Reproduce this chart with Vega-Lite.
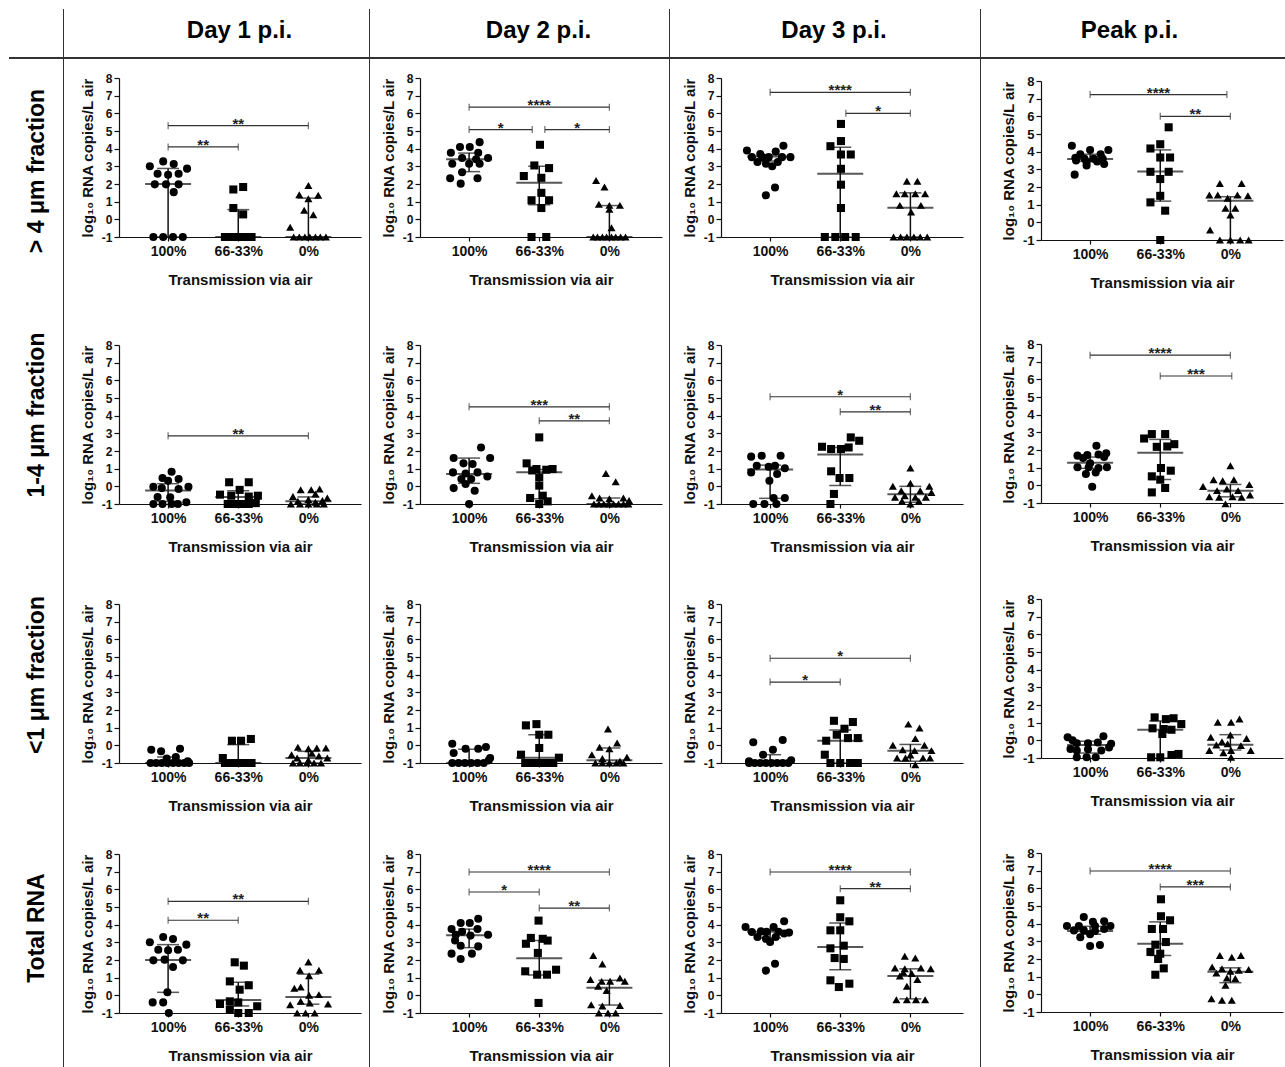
{
"$schema": "https://vega.github.io/schema/vega-lite/v6.json",
"padding": {"left": 0, "top": 9, "right": 0, "bottom": 0},
"background": "white",
"spacing": 0,
"config": {
 "font": "Liberation Sans",
 "view": {"stroke": null},
 "concat": {"spacing": 0},
 "axis": {"grid": false, "domainColor": "#111", "domainWidth": 1.2, "tickColor": "#111", "tickWidth": 1.2, "labelColor": "#111", "titleColor": "#111", "labelFont": "Liberation Sans", "titleFont": "Liberation Sans"},
 "axisX": {"tickSize": 4, "labelPadding": 3, "labelFontSize": 14, "labelFontWeight": "bold", "titleFontSize": 15, "titleFontWeight": "bold", "titlePadding": 14, "labelAngle": 0},
 "axisY": {"tickSize": 5, "labelPadding": 2, "labelFontSize": 12, "labelFontWeight": "bold", "titleFontSize": 15, "titleFontWeight": "bold", "titlePadding": 6, "labelOverlap": false}
},
"datasets": {
"sum": [
{"p":"11","x":1,"med":2.0,"q1":-1,"q3":2.88},{"p":"11","x":2,"med":-1,"q1":-1,"q3":0.55},{"p":"11","x":3,"med":-1,"q1":-1,"q3":1.2},
{"p":"12","x":1,"med":3.4,"q1":2.7,"q3":3.75},{"p":"12","x":2,"med":2.07,"q1":0.83,"q3":3.0},{"p":"12","x":3,"med":-1,"q1":-1,"q3":0.78},
{"p":"13","x":1,"med":3.56,"q1":3.3,"q3":3.65},{"p":"13","x":2,"med":2.58,"q1":-1,"q3":4.08},{"p":"13","x":3,"med":0.66,"q1":-1,"q3":1.5},
{"p":"14","x":1,"med":3.58,"q1":3.45,"q3":3.85},{"p":"14","x":2,"med":2.88,"q1":1.2,"q3":4.1},{"p":"14","x":3,"med":1.22,"q1":-1,"q3":1.45},
{"p":"21","x":1,"med":-0.24,"q1":-0.85,"q3":0.15},{"p":"21","x":2,"med":-0.6,"q1":-1,"q3":-0.25},{"p":"21","x":3,"med":-0.85,"q1":-1,"q3":-0.6},
{"p":"22","x":1,"med":0.7,"q1":0.17,"q3":1.6},{"p":"22","x":2,"med":0.8,"q1":-0.7,"q3":0.95},{"p":"22","x":3,"med":-1,"q1":-1,"q3":-0.66},
{"p":"23","x":1,"med":0.95,"q1":-0.68,"q3":1.2},{"p":"23","x":2,"med":1.8,"q1":0.05,"q3":2.2},{"p":"23","x":3,"med":-0.45,"q1":-0.9,"q3":0.0},
{"p":"24","x":1,"med":1.28,"q1":0.96,"q3":1.6},{"p":"24","x":2,"med":1.85,"q1":0.33,"q3":2.6},{"p":"24","x":3,"med":-0.3,"q1":-0.65,"q3":0.05},
{"p":"31","x":1,"med":-1,"q1":-1,"q3":-0.66},{"p":"31","x":2,"med":-1,"q1":-1,"q3":0.04},{"p":"31","x":3,"med":-0.72,"q1":-1,"q3":-0.34},
{"p":"32","x":1,"med":-1,"q1":-1,"q3":-0.22},{"p":"32","x":2,"med":-0.7,"q1":-1,"q3":0.6},{"p":"32","x":3,"med":-0.85,"q1":-1,"q3":-0.15},
{"p":"33","x":1,"med":-0.9,"q1":-1,"q3":-0.53},{"p":"33","x":2,"med":0.26,"q1":-1,"q3":0.87},{"p":"33","x":3,"med":-0.3,"q1":-0.9,"q3":0.05},
{"p":"34","x":1,"med":-0.26,"q1":-0.72,"q3":-0.05},{"p":"34","x":2,"med":0.6,"q1":-1,"q3":1.1},{"p":"34","x":3,"med":-0.25,"q1":-0.55,"q3":0.32},
{"p":"41","x":1,"med":2.0,"q1":0.17,"q3":2.87},{"p":"41","x":2,"med":-0.26,"q1":-0.6,"q3":0.74},{"p":"41","x":3,"med":-0.1,"q1":-0.5,"q3":1.2},
{"p":"42","x":1,"med":3.4,"q1":2.7,"q3":3.75},{"p":"42","x":2,"med":2.1,"q1":1.15,"q3":3.1},{"p":"42","x":3,"med":0.43,"q1":-0.55,"q3":0.85},
{"p":"43","x":1,"med":3.6,"q1":3.25,"q3":3.7},{"p":"43","x":2,"med":2.74,"q1":1.45,"q3":4.1},{"p":"43","x":3,"med":1.1,"q1":-0.2,"q3":1.5},
{"p":"44","x":1,"med":3.58,"q1":3.4,"q3":3.85},{"p":"44","x":2,"med":2.87,"q1":2.2,"q3":4.1},{"p":"44","x":3,"med":1.28,"q1":0.66,"q3":1.5}
],
"sig": [
{"p":"11","x1":1,"x2":2,"y":4.1,"lab":"**"},{"p":"11","x1":1,"x2":3,"y":5.3,"lab":"**"},
{"p":"12","x1":1,"x2":1.9,"y":5.08,"lab":"*"},{"p":"12","x1":2.08,"x2":3,"y":5.08,"lab":"*"},{"p":"12","x1":1,"x2":3,"y":6.35,"lab":"****"},
{"p":"13","x1":1,"x2":3,"y":7.19,"lab":"****"},{"p":"13","x1":2.08,"x2":3,"y":6.0,"lab":"*"},
{"p":"14","x1":1,"x2":2.95,"y":7.23,"lab":"****"},{"p":"14","x1":2,"x2":3,"y":6.0,"lab":"**"},
{"p":"21","x1":1,"x2":3,"y":2.86,"lab":"**"},
{"p":"22","x1":1,"x2":3,"y":4.5,"lab":"***"},{"p":"22","x1":2,"x2":3,"y":3.71,"lab":"**"},
{"p":"23","x1":1,"x2":3,"y":5.07,"lab":"*"},{"p":"23","x1":2,"x2":3,"y":4.22,"lab":"**"},
{"p":"24","x1":1,"x2":3,"y":7.37,"lab":"****"},{"p":"24","x1":2,"x2":3.02,"y":6.19,"lab":"***"},
{"p":"33","x1":1,"x2":2,"y":3.58,"lab":"*"},{"p":"33","x1":1,"x2":3,"y":4.93,"lab":"*"},
{"p":"41","x1":1,"x2":2,"y":4.25,"lab":"**"},{"p":"41","x1":1,"x2":3,"y":5.32,"lab":"**"},
{"p":"42","x1":1,"x2":3,"y":6.98,"lab":"****"},{"p":"42","x1":1,"x2":2,"y":5.85,"lab":"*"},{"p":"42","x1":2,"x2":3,"y":4.94,"lab":"**"},
{"p":"43","x1":1,"x2":3,"y":6.98,"lab":"****"},{"p":"43","x1":2,"x2":3,"y":6.04,"lab":"**"},
{"p":"44","x1":1,"x2":3,"y":6.98,"lab":"****"},{"p":"44","x1":2,"x2":3,"y":6.08,"lab":"***"}
],
"pts": [
{"p":"11","g":"100%","x":0.74,"y":3.0},{"p":"11","g":"100%","x":0.93,"y":3.28},{"p":"11","g":"100%","x":1.08,"y":3.13},{"p":"11","g":"100%","x":1.27,"y":2.87},{"p":"11","g":"100%","x":0.85,"y":2.58},{"p":"11","g":"100%","x":1.0,"y":2.52},{"p":"11","g":"100%","x":1.15,"y":2.58},{"p":"11","g":"100%","x":0.81,"y":1.98},{"p":"11","g":"100%","x":0.97,"y":1.98},{"p":"11","g":"100%","x":1.15,"y":1.98},{"p":"11","g":"100%","x":1.08,"y":1.54},{"p":"11","g":"100%","x":0.79,"y":-1},{"p":"11","g":"100%","x":0.93,"y":-1},{"p":"11","g":"100%","x":1.07,"y":-1},{"p":"11","g":"100%","x":1.21,"y":-1},
{"p":"11","g":"66-33%","x":1.93,"y":1.69},{"p":"11","g":"66-33%","x":2.07,"y":1.83},{"p":"11","g":"66-33%","x":1.93,"y":0.64},{"p":"11","g":"66-33%","x":2.07,"y":0.28},{"p":"11","g":"66-33%","x":1.81,"y":-1},{"p":"11","g":"66-33%","x":1.86,"y":-1},{"p":"11","g":"66-33%","x":1.92,"y":-1},{"p":"11","g":"66-33%","x":1.97,"y":-1},{"p":"11","g":"66-33%","x":2.03,"y":-1},{"p":"11","g":"66-33%","x":2.08,"y":-1},{"p":"11","g":"66-33%","x":2.14,"y":-1},{"p":"11","g":"66-33%","x":2.19,"y":-1},
{"p":"11","g":"0%","x":3.0,"y":1.92},{"p":"11","g":"0%","x":2.87,"y":1.39},{"p":"11","g":"0%","x":3.14,"y":1.36},{"p":"11","g":"0%","x":3.0,"y":1.17},{"p":"11","g":"0%","x":2.94,"y":0.51},{"p":"11","g":"0%","x":3.07,"y":0.26},{"p":"11","g":"0%","x":2.74,"y":-0.45},{"p":"11","g":"0%","x":2.79,"y":-1},{"p":"11","g":"0%","x":2.87,"y":-1},{"p":"11","g":"0%","x":2.95,"y":-1},{"p":"11","g":"0%","x":3.02,"y":-1},{"p":"11","g":"0%","x":3.1,"y":-1},{"p":"11","g":"0%","x":3.17,"y":-1},{"p":"11","g":"0%","x":3.25,"y":-1},
{"p":"12","g":"100%","x":1.15,"y":4.37},{"p":"12","g":"100%","x":0.87,"y":4.09},{"p":"12","g":"100%","x":1.01,"y":4.09},{"p":"12","g":"100%","x":0.74,"y":3.77},{"p":"12","g":"100%","x":1.13,"y":3.77},{"p":"12","g":"100%","x":0.9,"y":3.47},{"p":"12","g":"100%","x":1.27,"y":3.47},{"p":"12","g":"100%","x":1.1,"y":3.4},{"p":"12","g":"100%","x":0.76,"y":3.15},{"p":"12","g":"100%","x":1.0,"y":3.15},{"p":"12","g":"100%","x":1.15,"y":3.15},{"p":"12","g":"100%","x":0.9,"y":2.67},{"p":"12","g":"100%","x":0.73,"y":2.33},{"p":"12","g":"100%","x":1.12,"y":2.33},{"p":"12","g":"100%","x":0.88,"y":2.02},
{"p":"12","g":"66-33%","x":2.01,"y":4.22},{"p":"12","g":"66-33%","x":1.93,"y":3.05},{"p":"12","g":"66-33%","x":2.14,"y":2.9},{"p":"12","g":"66-33%","x":1.78,"y":2.45},{"p":"12","g":"66-33%","x":2.03,"y":2.35},{"p":"12","g":"66-33%","x":2.03,"y":1.5},{"p":"12","g":"66-33%","x":1.89,"y":1.08},{"p":"12","g":"66-33%","x":2.14,"y":1.08},{"p":"12","g":"66-33%","x":2.03,"y":0.64},{"p":"12","g":"66-33%","x":1.89,"y":-1},{"p":"12","g":"66-33%","x":2.1,"y":-1},
{"p":"12","g":"0%","x":2.81,"y":2.2},{"p":"12","g":"0%","x":2.93,"y":1.83},{"p":"12","g":"0%","x":2.85,"y":0.85},{"p":"12","g":"0%","x":3.0,"y":0.79},{"p":"12","g":"0%","x":3.15,"y":0.79},{"p":"12","g":"0%","x":3.0,"y":0.57},{"p":"12","g":"0%","x":3.03,"y":-0.47},{"p":"12","g":"0%","x":2.77,"y":-1},{"p":"12","g":"0%","x":2.83,"y":-1},{"p":"12","g":"0%","x":2.9,"y":-1},{"p":"12","g":"0%","x":2.96,"y":-1},{"p":"12","g":"0%","x":3.03,"y":-1},{"p":"12","g":"0%","x":3.09,"y":-1},{"p":"12","g":"0%","x":3.16,"y":-1},{"p":"12","g":"0%","x":3.23,"y":-1},
{"p":"13","g":"100%","x":0.67,"y":3.9},{"p":"13","g":"100%","x":0.86,"y":3.7},{"p":"13","g":"100%","x":1.08,"y":3.84},{"p":"13","g":"100%","x":1.19,"y":4.16},{"p":"13","g":"100%","x":0.74,"y":3.52},{"p":"13","g":"100%","x":0.89,"y":3.52},{"p":"13","g":"100%","x":0.98,"y":3.52},{"p":"13","g":"100%","x":1.17,"y":3.52},{"p":"13","g":"100%","x":1.29,"y":3.52},{"p":"13","g":"100%","x":0.82,"y":3.24},{"p":"13","g":"100%","x":0.94,"y":3.15},{"p":"13","g":"100%","x":1.03,"y":3.01},{"p":"13","g":"100%","x":1.11,"y":3.24},{"p":"13","g":"100%","x":1.07,"y":1.8},{"p":"13","g":"100%","x":0.94,"y":1.36},
{"p":"13","g":"66-33%","x":2.01,"y":5.4},{"p":"13","g":"66-33%","x":2.01,"y":4.43},{"p":"13","g":"66-33%","x":1.86,"y":4.14},{"p":"13","g":"66-33%","x":2.15,"y":3.67},{"p":"13","g":"66-33%","x":2.01,"y":3.67},{"p":"13","g":"66-33%","x":2.01,"y":2.86},{"p":"13","g":"66-33%","x":2.01,"y":1.96},{"p":"13","g":"66-33%","x":2.01,"y":0.64},{"p":"13","g":"66-33%","x":1.78,"y":-1},{"p":"13","g":"66-33%","x":1.93,"y":-1},{"p":"13","g":"66-33%","x":2.07,"y":-1},{"p":"13","g":"66-33%","x":2.22,"y":-1},
{"p":"13","g":"0%","x":2.95,"y":2.15},{"p":"13","g":"0%","x":3.1,"y":2.15},{"p":"13","g":"0%","x":2.8,"y":1.45},{"p":"13","g":"0%","x":2.92,"y":1.45},{"p":"13","g":"0%","x":3.07,"y":1.45},{"p":"13","g":"0%","x":3.21,"y":1.45},{"p":"13","g":"0%","x":2.85,"y":0.79},{"p":"13","g":"0%","x":3.01,"y":0.41},{"p":"13","g":"0%","x":3.15,"y":0.79},{"p":"13","g":"0%","x":2.76,"y":-1},{"p":"13","g":"0%","x":2.86,"y":-1},{"p":"13","g":"0%","x":2.95,"y":-1},{"p":"13","g":"0%","x":3.05,"y":-1},{"p":"13","g":"0%","x":3.14,"y":-1},{"p":"13","g":"0%","x":3.24,"y":-1},
{"p":"14","g":"100%","x":0.74,"y":4.33},{"p":"14","g":"100%","x":1.0,"y":4.09},{"p":"14","g":"100%","x":1.26,"y":4.09},{"p":"14","g":"100%","x":0.86,"y":3.85},{"p":"14","g":"100%","x":1.15,"y":3.85},{"p":"14","g":"100%","x":0.79,"y":3.65},{"p":"14","g":"100%","x":0.92,"y":3.6},{"p":"14","g":"100%","x":1.05,"y":3.6},{"p":"14","g":"100%","x":1.18,"y":3.6},{"p":"14","g":"100%","x":0.8,"y":3.5},{"p":"14","g":"100%","x":1.1,"y":3.45},{"p":"14","g":"100%","x":0.95,"y":3.4},{"p":"14","g":"100%","x":1.2,"y":3.3},{"p":"14","g":"100%","x":0.95,"y":3.22},{"p":"14","g":"100%","x":0.78,"y":2.7},
{"p":"14","g":"66-33%","x":2.12,"y":5.38},{"p":"14","g":"66-33%","x":2.0,"y":4.42},{"p":"14","g":"66-33%","x":1.86,"y":4.18},{"p":"14","g":"66-33%","x":2.14,"y":3.67},{"p":"14","g":"66-33%","x":2.0,"y":3.67},{"p":"14","g":"66-33%","x":1.86,"y":2.86},{"p":"14","g":"66-33%","x":2.12,"y":2.86},{"p":"14","g":"66-33%","x":2.0,"y":2.45},{"p":"14","g":"66-33%","x":2.0,"y":1.5},{"p":"14","g":"66-33%","x":1.86,"y":1.13},{"p":"14","g":"66-33%","x":2.07,"y":0.66},{"p":"14","g":"66-33%","x":2.0,"y":-1},
{"p":"14","g":"0%","x":2.85,"y":2.2},{"p":"14","g":"0%","x":3.16,"y":2.2},{"p":"14","g":"0%","x":2.7,"y":1.55},{"p":"14","g":"0%","x":2.82,"y":1.55},{"p":"14","g":"0%","x":2.96,"y":1.36},{"p":"14","g":"0%","x":3.1,"y":1.55},{"p":"14","g":"0%","x":3.25,"y":1.5},{"p":"14","g":"0%","x":2.93,"y":0.8},{"p":"14","g":"0%","x":3.07,"y":0.8},{"p":"14","g":"0%","x":3.0,"y":0.41},{"p":"14","g":"0%","x":2.71,"y":-0.43},{"p":"14","g":"0%","x":2.85,"y":-1},{"p":"14","g":"0%","x":3.0,"y":-1},{"p":"14","g":"0%","x":3.14,"y":-1},{"p":"14","g":"0%","x":3.26,"y":-1},
{"p":"21","g":"100%","x":1.05,"y":0.83},{"p":"21","g":"100%","x":0.92,"y":0.47},{"p":"21","g":"100%","x":1.15,"y":0.41},{"p":"21","g":"100%","x":1.0,"y":0.32},{"p":"21","g":"100%","x":0.79,"y":-0.02},{"p":"21","g":"100%","x":1.29,"y":-0.02},{"p":"21","g":"100%","x":0.91,"y":-0.1},{"p":"21","g":"100%","x":1.15,"y":-0.15},{"p":"21","g":"100%","x":1.03,"y":-0.62},{"p":"21","g":"100%","x":0.85,"y":-0.6},{"p":"21","g":"100%","x":1.26,"y":-0.9},{"p":"21","g":"100%","x":0.79,"y":-1},{"p":"21","g":"100%","x":0.92,"y":-1},{"p":"21","g":"100%","x":1.05,"y":-1},{"p":"21","g":"100%","x":1.14,"y":-1},
{"p":"21","g":"66-33%","x":1.87,"y":0.23},{"p":"21","g":"66-33%","x":2.15,"y":0.23},{"p":"21","g":"66-33%","x":2.02,"y":-0.2},{"p":"21","g":"66-33%","x":1.74,"y":-0.47},{"p":"21","g":"66-33%","x":1.9,"y":-0.53},{"p":"21","g":"66-33%","x":2.15,"y":-0.58},{"p":"21","g":"66-33%","x":2.28,"y":-0.53},{"p":"21","g":"66-33%","x":1.85,"y":-1},{"p":"21","g":"66-33%","x":1.95,"y":-1},{"p":"21","g":"66-33%","x":2.05,"y":-1},{"p":"21","g":"66-33%","x":2.15,"y":-1},{"p":"21","g":"66-33%","x":2.25,"y":-0.95},
{"p":"21","g":"0%","x":2.89,"y":-0.19},{"p":"21","g":"0%","x":3.04,"y":-0.19},{"p":"21","g":"0%","x":3.16,"y":-0.15},{"p":"21","g":"0%","x":3.1,"y":-0.43},{"p":"21","g":"0%","x":2.78,"y":-0.57},{"p":"21","g":"0%","x":3.27,"y":-0.66},{"p":"21","g":"0%","x":3.0,"y":-0.75},{"p":"21","g":"0%","x":2.85,"y":-0.85},{"p":"21","g":"0%","x":3.1,"y":-0.9},{"p":"21","g":"0%","x":2.75,"y":-1},{"p":"21","g":"0%","x":2.88,"y":-1},{"p":"21","g":"0%","x":3.0,"y":-1},{"p":"21","g":"0%","x":3.12,"y":-1},{"p":"21","g":"0%","x":3.22,"y":-1},{"p":"21","g":"0%","x":3.2,"y":-0.8},
{"p":"22","g":"100%","x":1.17,"y":2.2},{"p":"22","g":"100%","x":0.78,"y":1.6},{"p":"22","g":"100%","x":1.3,"y":1.6},{"p":"22","g":"100%","x":0.92,"y":1.3},{"p":"22","g":"100%","x":1.05,"y":1.26},{"p":"22","g":"100%","x":0.77,"y":0.79},{"p":"22","g":"100%","x":0.95,"y":0.73},{"p":"22","g":"100%","x":1.12,"y":0.79},{"p":"22","g":"100%","x":1.26,"y":0.56},{"p":"22","g":"100%","x":0.89,"y":0.41},{"p":"22","g":"100%","x":1.03,"y":0.41},{"p":"22","g":"100%","x":0.95,"y":0.13},{"p":"22","g":"100%","x":0.78,"y":-0.1},{"p":"22","g":"100%","x":1.08,"y":-0.25},{"p":"22","g":"100%","x":1.0,"y":-1},
{"p":"22","g":"66-33%","x":2.0,"y":2.77},{"p":"22","g":"66-33%","x":1.82,"y":1.3},{"p":"22","g":"66-33%","x":1.96,"y":0.98},{"p":"22","g":"66-33%","x":2.1,"y":0.94},{"p":"22","g":"66-33%","x":2.19,"y":0.98},{"p":"22","g":"66-33%","x":1.9,"y":0.9},{"p":"22","g":"66-33%","x":2.0,"y":0.51},{"p":"22","g":"66-33%","x":2.0,"y":0.04},{"p":"22","g":"66-33%","x":1.87,"y":-0.66},{"p":"22","g":"66-33%","x":2.05,"y":-0.53},{"p":"22","g":"66-33%","x":2.12,"y":-0.85},{"p":"22","g":"66-33%","x":2.0,"y":-1},
{"p":"22","g":"0%","x":2.95,"y":0.73},{"p":"22","g":"0%","x":3.09,"y":0.26},{"p":"22","g":"0%","x":2.75,"y":-0.53},{"p":"22","g":"0%","x":2.86,"y":-0.66},{"p":"22","g":"0%","x":3.0,"y":-0.7},{"p":"22","g":"0%","x":3.2,"y":-0.66},{"p":"22","g":"0%","x":3.28,"y":-0.8},{"p":"22","g":"0%","x":2.78,"y":-1},{"p":"22","g":"0%","x":2.85,"y":-1},{"p":"22","g":"0%","x":2.92,"y":-1},{"p":"22","g":"0%","x":2.99,"y":-1},{"p":"22","g":"0%","x":3.06,"y":-1},{"p":"22","g":"0%","x":3.13,"y":-1},{"p":"22","g":"0%","x":3.2,"y":-1},{"p":"22","g":"0%","x":3.27,"y":-1},
{"p":"23","g":"100%","x":0.73,"y":1.68},{"p":"23","g":"100%","x":0.88,"y":1.73},{"p":"23","g":"100%","x":1.15,"y":1.73},{"p":"23","g":"100%","x":0.81,"y":1.17},{"p":"23","g":"100%","x":0.98,"y":1.11},{"p":"23","g":"100%","x":1.07,"y":1.17},{"p":"23","g":"100%","x":1.21,"y":1.02},{"p":"23","g":"100%","x":0.73,"y":0.79},{"p":"23","g":"100%","x":0.99,"y":0.32},{"p":"23","g":"100%","x":1.1,"y":0.7},{"p":"23","g":"100%","x":1.05,"y":-0.66},{"p":"23","g":"100%","x":1.21,"y":-0.66},{"p":"23","g":"100%","x":0.76,"y":-1},{"p":"23","g":"100%","x":0.92,"y":-1},{"p":"23","g":"100%","x":1.09,"y":-1},
{"p":"23","g":"66-33%","x":2.15,"y":2.77},{"p":"23","g":"66-33%","x":2.27,"y":2.58},{"p":"23","g":"66-33%","x":1.74,"y":2.24},{"p":"23","g":"66-33%","x":1.87,"y":2.11},{"p":"23","g":"66-33%","x":2.01,"y":2.11},{"p":"23","g":"66-33%","x":2.12,"y":2.2},{"p":"23","g":"66-33%","x":1.87,"y":0.85},{"p":"23","g":"66-33%","x":2.13,"y":0.47},{"p":"23","g":"66-33%","x":1.99,"y":0.47},{"p":"23","g":"66-33%","x":1.91,"y":-0.43},{"p":"23","g":"66-33%","x":1.86,"y":-1},
{"p":"23","g":"0%","x":3.0,"y":1.04},{"p":"23","g":"0%","x":2.75,"y":0.0},{"p":"23","g":"0%","x":3.0,"y":0.17},{"p":"23","g":"0%","x":3.27,"y":0.0},{"p":"23","g":"0%","x":2.87,"y":-0.25},{"p":"23","g":"0%","x":3.14,"y":-0.25},{"p":"23","g":"0%","x":2.78,"y":-0.62},{"p":"23","g":"0%","x":2.92,"y":-0.53},{"p":"23","g":"0%","x":3.07,"y":-0.62},{"p":"23","g":"0%","x":3.22,"y":-0.62},{"p":"23","g":"0%","x":3.0,"y":-1},{"p":"23","g":"0%","x":2.88,"y":-0.85},{"p":"23","g":"0%","x":3.12,"y":-0.85},{"p":"23","g":"0%","x":3.3,"y":-0.35},
{"p":"24","g":"100%","x":1.09,"y":2.24},{"p":"24","g":"100%","x":0.82,"y":1.68},{"p":"24","g":"100%","x":0.96,"y":1.71},{"p":"24","g":"100%","x":1.12,"y":1.75},{"p":"24","g":"100%","x":1.23,"y":1.81},{"p":"24","g":"100%","x":0.9,"y":1.55},{"p":"24","g":"100%","x":1.2,"y":1.6},{"p":"24","g":"100%","x":0.82,"y":1.02},{"p":"24","g":"100%","x":0.98,"y":1.02},{"p":"24","g":"100%","x":1.12,"y":0.98},{"p":"24","g":"100%","x":1.24,"y":1.02},{"p":"24","g":"100%","x":1.0,"y":1.25},{"p":"24","g":"100%","x":0.94,"y":0.64},{"p":"24","g":"100%","x":1.08,"y":0.73},{"p":"24","g":"100%","x":1.03,"y":-0.08},
{"p":"24","g":"66-33%","x":1.88,"y":2.9},{"p":"24","g":"66-33%","x":2.07,"y":2.9},{"p":"24","g":"66-33%","x":1.77,"y":2.65},{"p":"24","g":"66-33%","x":2.2,"y":2.33},{"p":"24","g":"66-33%","x":1.95,"y":2.18},{"p":"24","g":"66-33%","x":2.1,"y":2.2},{"p":"24","g":"66-33%","x":2.01,"y":0.98},{"p":"24","g":"66-33%","x":2.15,"y":0.83},{"p":"24","g":"66-33%","x":1.88,"y":0.51},{"p":"24","g":"66-33%","x":2.0,"y":0.32},{"p":"24","g":"66-33%","x":2.07,"y":-0.15},{"p":"24","g":"66-33%","x":1.88,"y":-0.4},
{"p":"24","g":"0%","x":3.0,"y":1.11},{"p":"24","g":"0%","x":2.76,"y":0.32},{"p":"24","g":"0%","x":2.89,"y":0.26},{"p":"24","g":"0%","x":3.05,"y":0.32},{"p":"24","g":"0%","x":3.27,"y":0.04},{"p":"24","g":"0%","x":2.61,"y":-0.06},{"p":"24","g":"0%","x":2.81,"y":-0.3},{"p":"24","g":"0%","x":2.95,"y":-0.21},{"p":"24","g":"0%","x":3.11,"y":-0.3},{"p":"24","g":"0%","x":2.7,"y":-0.64},{"p":"24","g":"0%","x":2.84,"y":-0.68},{"p":"24","g":"0%","x":3.03,"y":-0.64},{"p":"24","g":"0%","x":3.16,"y":-0.68},{"p":"24","g":"0%","x":2.93,"y":-1.05},{"p":"24","g":"0%","x":3.28,"y":-0.55},
{"p":"31","g":"100%","x":0.76,"y":-0.25},{"p":"31","g":"100%","x":0.9,"y":-0.34},{"p":"31","g":"100%","x":1.17,"y":-0.19},{"p":"31","g":"100%","x":1.11,"y":-0.66},{"p":"31","g":"100%","x":0.98,"y":-0.75},{"p":"31","g":"100%","x":0.75,"y":-1},{"p":"31","g":"100%","x":0.83,"y":-1},{"p":"31","g":"100%","x":0.91,"y":-1},{"p":"31","g":"100%","x":0.99,"y":-1},{"p":"31","g":"100%","x":1.07,"y":-1},{"p":"31","g":"100%","x":1.15,"y":-1},{"p":"31","g":"100%","x":1.23,"y":-1},{"p":"31","g":"100%","x":1.3,"y":-1},{"p":"31","g":"100%","x":1.28,"y":-0.9},
{"p":"31","g":"66-33%","x":1.91,"y":0.26},{"p":"31","g":"66-33%","x":2.04,"y":0.26},{"p":"31","g":"66-33%","x":2.18,"y":0.36},{"p":"31","g":"66-33%","x":1.78,"y":-0.72},{"p":"31","g":"66-33%","x":1.81,"y":-1},{"p":"31","g":"66-33%","x":1.86,"y":-1},{"p":"31","g":"66-33%","x":1.92,"y":-1},{"p":"31","g":"66-33%","x":1.97,"y":-1},{"p":"31","g":"66-33%","x":2.03,"y":-1},{"p":"31","g":"66-33%","x":2.08,"y":-1},{"p":"31","g":"66-33%","x":2.14,"y":-1},{"p":"31","g":"66-33%","x":2.19,"y":-1},
{"p":"31","g":"0%","x":2.85,"y":-0.11},{"p":"31","g":"0%","x":3.0,"y":-0.19},{"p":"31","g":"0%","x":3.12,"y":-0.15},{"p":"31","g":"0%","x":3.25,"y":-0.15},{"p":"31","g":"0%","x":2.76,"y":-0.53},{"p":"31","g":"0%","x":3.05,"y":-0.45},{"p":"31","g":"0%","x":3.15,"y":-0.6},{"p":"31","g":"0%","x":2.84,"y":-0.72},{"p":"31","g":"0%","x":3.27,"y":-0.72},{"p":"31","g":"0%","x":2.78,"y":-1},{"p":"31","g":"0%","x":2.88,"y":-1},{"p":"31","g":"0%","x":2.98,"y":-1},{"p":"31","g":"0%","x":3.08,"y":-1},{"p":"31","g":"0%","x":3.18,"y":-1},{"p":"31","g":"0%","x":3.0,"y":-0.85},
{"p":"32","g":"100%","x":0.76,"y":0.09},{"p":"32","g":"100%","x":0.95,"y":-0.19},{"p":"32","g":"100%","x":1.13,"y":-0.19},{"p":"32","g":"100%","x":1.24,"y":-0.09},{"p":"32","g":"100%","x":0.78,"y":-0.43},{"p":"32","g":"100%","x":1.3,"y":-0.72},{"p":"32","g":"100%","x":0.76,"y":-1},{"p":"32","g":"100%","x":0.85,"y":-1},{"p":"32","g":"100%","x":0.94,"y":-1},{"p":"32","g":"100%","x":1.03,"y":-1},{"p":"32","g":"100%","x":1.12,"y":-1},{"p":"32","g":"100%","x":1.21,"y":-1},{"p":"32","g":"100%","x":1.28,"y":-0.85},
{"p":"32","g":"66-33%","x":1.81,"y":1.13},{"p":"32","g":"66-33%","x":1.96,"y":1.2},{"p":"32","g":"66-33%","x":2.0,"y":0.6},{"p":"32","g":"66-33%","x":2.13,"y":0.6},{"p":"32","g":"66-33%","x":2.0,"y":-0.15},{"p":"32","g":"66-33%","x":1.74,"y":-0.53},{"p":"32","g":"66-33%","x":1.8,"y":-1},{"p":"32","g":"66-33%","x":1.9,"y":-1},{"p":"32","g":"66-33%","x":2.0,"y":-1},{"p":"32","g":"66-33%","x":2.1,"y":-1},{"p":"32","g":"66-33%","x":2.2,"y":-1},{"p":"32","g":"66-33%","x":2.28,"y":-0.7},
{"p":"32","g":"0%","x":2.98,"y":0.92},{"p":"32","g":"0%","x":3.11,"y":0.13},{"p":"32","g":"0%","x":2.86,"y":-0.11},{"p":"32","g":"0%","x":3.0,"y":-0.2},{"p":"32","g":"0%","x":2.75,"y":-0.53},{"p":"32","g":"0%","x":3.25,"y":-0.68},{"p":"32","g":"0%","x":2.9,"y":-0.75},{"p":"32","g":"0%","x":2.8,"y":-1},{"p":"32","g":"0%","x":2.9,"y":-1},{"p":"32","g":"0%","x":3.0,"y":-1},{"p":"32","g":"0%","x":3.1,"y":-1},{"p":"32","g":"0%","x":3.2,"y":-1},{"p":"32","g":"0%","x":3.15,"y":-0.9},
{"p":"33","g":"100%","x":0.76,"y":0.17},{"p":"33","g":"100%","x":1.18,"y":0.3},{"p":"33","g":"100%","x":1.04,"y":-0.25},{"p":"33","g":"100%","x":0.9,"y":-0.53},{"p":"33","g":"100%","x":1.3,"y":-0.85},{"p":"33","g":"100%","x":0.7,"y":-1},{"p":"33","g":"100%","x":0.78,"y":-1},{"p":"33","g":"100%","x":0.86,"y":-1},{"p":"33","g":"100%","x":0.94,"y":-1},{"p":"33","g":"100%","x":1.02,"y":-1},{"p":"33","g":"100%","x":1.1,"y":-1},{"p":"33","g":"100%","x":1.18,"y":-1},{"p":"33","g":"100%","x":1.26,"y":-1},{"p":"33","g":"100%","x":0.7,"y":-0.9},
{"p":"33","g":"66-33%","x":1.91,"y":1.39},{"p":"33","g":"66-33%","x":2.18,"y":1.32},{"p":"33","g":"66-33%","x":2.06,"y":0.94},{"p":"33","g":"66-33%","x":2.11,"y":0.41},{"p":"33","g":"66-33%","x":2.25,"y":0.41},{"p":"33","g":"66-33%","x":1.95,"y":0.6},{"p":"33","g":"66-33%","x":1.78,"y":-0.53},{"p":"33","g":"66-33%","x":1.8,"y":0.26},{"p":"33","g":"66-33%","x":1.86,"y":-1},{"p":"33","g":"66-33%","x":2.0,"y":-1},{"p":"33","g":"66-33%","x":2.14,"y":-1},{"p":"33","g":"66-33%","x":2.25,"y":-1},
{"p":"33","g":"0%","x":2.97,"y":1.2},{"p":"33","g":"0%","x":3.13,"y":0.98},{"p":"33","g":"0%","x":3.07,"y":0.38},{"p":"33","g":"0%","x":2.75,"y":0.0},{"p":"33","g":"0%","x":3.2,"y":0.0},{"p":"33","g":"0%","x":2.89,"y":-0.25},{"p":"33","g":"0%","x":3.06,"y":-0.3},{"p":"33","g":"0%","x":3.3,"y":-0.3},{"p":"33","g":"0%","x":2.81,"y":-0.72},{"p":"33","g":"0%","x":2.93,"y":-0.72},{"p":"33","g":"0%","x":3.18,"y":-0.72},{"p":"33","g":"0%","x":3.28,"y":-0.72},{"p":"33","g":"0%","x":3.07,"y":-1.1},{"p":"33","g":"0%","x":3.0,"y":-0.55},
{"p":"34","g":"100%","x":0.68,"y":0.17},{"p":"34","g":"100%","x":1.19,"y":0.23},{"p":"34","g":"100%","x":0.75,"y":0.0},{"p":"34","g":"100%","x":0.81,"y":-0.17},{"p":"34","g":"100%","x":0.97,"y":-0.17},{"p":"34","g":"100%","x":1.11,"y":-0.12},{"p":"34","g":"100%","x":0.72,"y":-0.49},{"p":"34","g":"100%","x":1.27,"y":-0.4},{"p":"34","g":"100%","x":0.81,"y":-0.58},{"p":"34","g":"100%","x":0.97,"y":-0.5},{"p":"34","g":"100%","x":1.16,"y":-0.58},{"p":"34","g":"100%","x":0.81,"y":-0.96},{"p":"34","g":"100%","x":0.95,"y":-0.96},{"p":"34","g":"100%","x":1.08,"y":-0.96},{"p":"34","g":"100%","x":1.3,"y":-0.2},
{"p":"34","g":"66-33%","x":1.92,"y":1.3},{"p":"34","g":"66-33%","x":2.08,"y":1.2},{"p":"34","g":"66-33%","x":2.19,"y":1.25},{"p":"34","g":"66-33%","x":2.3,"y":0.92},{"p":"34","g":"66-33%","x":1.89,"y":0.68},{"p":"34","g":"66-33%","x":2.05,"y":0.64},{"p":"34","g":"66-33%","x":2.16,"y":0.6},{"p":"34","g":"66-33%","x":2.03,"y":0.36},{"p":"34","g":"66-33%","x":1.87,"y":-0.96},{"p":"34","g":"66-33%","x":2.0,"y":-0.96},{"p":"34","g":"66-33%","x":2.16,"y":-0.83},{"p":"34","g":"66-33%","x":2.26,"y":-0.77},
{"p":"34","g":"0%","x":2.82,"y":1.02},{"p":"34","g":"0%","x":3.01,"y":1.02},{"p":"34","g":"0%","x":3.13,"y":1.21},{"p":"34","g":"0%","x":3.0,"y":0.3},{"p":"34","g":"0%","x":2.72,"y":0.17},{"p":"34","g":"0%","x":2.88,"y":-0.08},{"p":"34","g":"0%","x":3.23,"y":0.11},{"p":"34","g":"0%","x":2.8,"y":-0.26},{"p":"34","g":"0%","x":3.15,"y":-0.3},{"p":"34","g":"0%","x":2.96,"y":-0.2},{"p":"34","g":"0%","x":2.7,"y":-0.58},{"p":"34","g":"0%","x":3.01,"y":-0.58},{"p":"34","g":"0%","x":3.29,"y":-0.58},{"p":"34","g":"0%","x":2.9,"y":-0.7},{"p":"34","g":"0%","x":3.01,"y":-0.96},
{"p":"41","g":"100%","x":0.74,"y":3.0},{"p":"41","g":"100%","x":0.93,"y":3.3},{"p":"41","g":"100%","x":1.07,"y":3.19},{"p":"41","g":"100%","x":1.26,"y":2.87},{"p":"41","g":"100%","x":0.86,"y":2.58},{"p":"41","g":"100%","x":1.0,"y":2.55},{"p":"41","g":"100%","x":1.14,"y":2.58},{"p":"41","g":"100%","x":0.79,"y":1.98},{"p":"41","g":"100%","x":0.95,"y":2.02},{"p":"41","g":"100%","x":1.21,"y":1.98},{"p":"41","g":"100%","x":1.07,"y":1.6},{"p":"41","g":"100%","x":0.99,"y":0.17},{"p":"41","g":"100%","x":0.78,"y":-0.4},{"p":"41","g":"100%","x":0.93,"y":-0.4},{"p":"41","g":"100%","x":1.01,"y":-1},
{"p":"41","g":"66-33%","x":1.95,"y":1.87},{"p":"41","g":"66-33%","x":2.08,"y":1.68},{"p":"41","g":"66-33%","x":1.88,"y":0.79},{"p":"41","g":"66-33%","x":2.15,"y":0.57},{"p":"41","g":"66-33%","x":2.02,"y":0.32},{"p":"41","g":"66-33%","x":1.74,"y":-0.49},{"p":"41","g":"66-33%","x":1.88,"y":-0.34},{"p":"41","g":"66-33%","x":2.0,"y":-0.4},{"p":"41","g":"66-33%","x":2.27,"y":-0.62},{"p":"41","g":"66-33%","x":1.88,"y":-0.81},{"p":"41","g":"66-33%","x":2.0,"y":-1},{"p":"41","g":"66-33%","x":2.15,"y":-1},
{"p":"41","g":"0%","x":3.0,"y":1.89},{"p":"41","g":"0%","x":2.88,"y":1.42},{"p":"41","g":"0%","x":3.15,"y":1.42},{"p":"41","g":"0%","x":3.01,"y":1.11},{"p":"41","g":"0%","x":2.89,"y":0.47},{"p":"41","g":"0%","x":2.8,"y":0.4},{"p":"41","g":"0%","x":3.01,"y":0.0},{"p":"41","g":"0%","x":3.15,"y":0.04},{"p":"41","g":"0%","x":2.74,"y":-0.53},{"p":"41","g":"0%","x":2.89,"y":-0.34},{"p":"41","g":"0%","x":3.02,"y":-0.43},{"p":"41","g":"0%","x":3.28,"y":-0.49},{"p":"41","g":"0%","x":2.84,"y":-1},{"p":"41","g":"0%","x":2.96,"y":-1},{"p":"41","g":"0%","x":3.09,"y":-1},
{"p":"42","g":"100%","x":1.13,"y":4.34},{"p":"42","g":"100%","x":0.88,"y":4.09},{"p":"42","g":"100%","x":1.01,"y":4.09},{"p":"42","g":"100%","x":0.75,"y":3.75},{"p":"42","g":"100%","x":1.12,"y":3.75},{"p":"42","g":"100%","x":0.9,"y":3.6},{"p":"42","g":"100%","x":0.81,"y":3.43},{"p":"42","g":"100%","x":1.02,"y":3.38},{"p":"42","g":"100%","x":1.27,"y":3.43},{"p":"42","g":"100%","x":0.8,"y":3.1},{"p":"42","g":"100%","x":0.88,"y":2.81},{"p":"42","g":"100%","x":1.13,"y":2.77},{"p":"42","g":"100%","x":0.75,"y":2.36},{"p":"42","g":"100%","x":1.04,"y":2.36},{"p":"42","g":"100%","x":0.88,"y":2.06},
{"p":"42","g":"66-33%","x":1.99,"y":4.23},{"p":"42","g":"66-33%","x":1.88,"y":3.25},{"p":"42","g":"66-33%","x":2.05,"y":3.2},{"p":"42","g":"66-33%","x":1.81,"y":2.92},{"p":"42","g":"66-33%","x":2.12,"y":3.1},{"p":"42","g":"66-33%","x":1.98,"y":2.4},{"p":"42","g":"66-33%","x":1.8,"y":1.36},{"p":"42","g":"66-33%","x":1.97,"y":1.17},{"p":"42","g":"66-33%","x":2.24,"y":1.45},{"p":"42","g":"66-33%","x":2.11,"y":1.17},{"p":"42","g":"66-33%","x":1.99,"y":-0.43},
{"p":"42","g":"0%","x":2.77,"y":2.25},{"p":"42","g":"0%","x":2.9,"y":1.77},{"p":"42","g":"0%","x":2.73,"y":0.89},{"p":"42","g":"0%","x":2.89,"y":0.79},{"p":"42","g":"0%","x":3.01,"y":0.8},{"p":"42","g":"0%","x":3.15,"y":0.98},{"p":"42","g":"0%","x":2.84,"y":0.51},{"p":"42","g":"0%","x":2.96,"y":0.28},{"p":"42","g":"0%","x":2.74,"y":-0.53},{"p":"42","g":"0%","x":2.9,"y":-0.6},{"p":"42","g":"0%","x":3.15,"y":-0.58},{"p":"42","g":"0%","x":2.85,"y":-1},{"p":"42","g":"0%","x":2.98,"y":-1},{"p":"42","g":"0%","x":3.09,"y":-1},{"p":"42","g":"0%","x":3.22,"y":0.8},
{"p":"43","g":"100%","x":0.65,"y":3.87},{"p":"43","g":"100%","x":1.05,"y":3.87},{"p":"43","g":"100%","x":1.2,"y":4.19},{"p":"43","g":"100%","x":0.74,"y":3.58},{"p":"43","g":"100%","x":0.87,"y":3.62},{"p":"43","g":"100%","x":0.95,"y":3.6},{"p":"43","g":"100%","x":1.12,"y":3.6},{"p":"43","g":"100%","x":1.27,"y":3.55},{"p":"43","g":"100%","x":0.82,"y":3.3},{"p":"43","g":"100%","x":0.94,"y":3.2},{"p":"43","g":"100%","x":1.0,"y":3.02},{"p":"43","g":"100%","x":1.08,"y":3.3},{"p":"43","g":"100%","x":1.07,"y":1.79},{"p":"43","g":"100%","x":0.94,"y":1.4},{"p":"43","g":"100%","x":1.2,"y":3.5},
{"p":"43","g":"66-33%","x":2.0,"y":5.38},{"p":"43","g":"66-33%","x":2.0,"y":4.42},{"p":"43","g":"66-33%","x":2.13,"y":4.19},{"p":"43","g":"66-33%","x":1.86,"y":3.68},{"p":"43","g":"66-33%","x":2.0,"y":3.68},{"p":"43","g":"66-33%","x":2.05,"y":2.81},{"p":"43","g":"66-33%","x":1.86,"y":2.66},{"p":"43","g":"66-33%","x":1.92,"y":2.11},{"p":"43","g":"66-33%","x":2.05,"y":2.06},{"p":"43","g":"66-33%","x":1.86,"y":0.85},{"p":"43","g":"66-33%","x":2.13,"y":0.66},{"p":"43","g":"66-33%","x":1.98,"y":0.47},
{"p":"43","g":"0%","x":2.92,"y":2.21},{"p":"43","g":"0%","x":3.07,"y":2.11},{"p":"43","g":"0%","x":2.78,"y":1.55},{"p":"43","g":"0%","x":2.92,"y":1.5},{"p":"43","g":"0%","x":3.02,"y":1.23},{"p":"43","g":"0%","x":3.15,"y":1.55},{"p":"43","g":"0%","x":3.29,"y":1.5},{"p":"43","g":"0%","x":2.85,"y":1.1},{"p":"43","g":"0%","x":2.95,"y":0.51},{"p":"43","g":"0%","x":2.8,"y":-0.25},{"p":"43","g":"0%","x":2.95,"y":-0.25},{"p":"43","g":"0%","x":3.08,"y":-0.25},{"p":"43","g":"0%","x":3.21,"y":-0.25},{"p":"43","g":"0%","x":3.1,"y":0.9},{"p":"43","g":"0%","x":2.9,"y":1.3},
{"p":"44","g":"100%","x":0.91,"y":4.38},{"p":"44","g":"100%","x":1.04,"y":4.1},{"p":"44","g":"100%","x":1.2,"y":4.13},{"p":"44","g":"100%","x":0.67,"y":3.87},{"p":"44","g":"100%","x":0.84,"y":3.87},{"p":"44","g":"100%","x":1.07,"y":3.87},{"p":"44","g":"100%","x":1.29,"y":3.87},{"p":"44","g":"100%","x":0.77,"y":3.62},{"p":"44","g":"100%","x":0.91,"y":3.62},{"p":"44","g":"100%","x":1.07,"y":3.58},{"p":"44","g":"100%","x":0.86,"y":3.23},{"p":"44","g":"100%","x":1.0,"y":3.4},{"p":"44","g":"100%","x":1.0,"y":2.74},{"p":"44","g":"100%","x":1.14,"y":2.79},{"p":"44","g":"100%","x":1.2,"y":3.7},
{"p":"44","g":"66-33%","x":2.01,"y":5.38},{"p":"44","g":"66-33%","x":2.01,"y":4.42},{"p":"44","g":"66-33%","x":2.14,"y":4.19},{"p":"44","g":"66-33%","x":1.88,"y":3.7},{"p":"44","g":"66-33%","x":2.04,"y":3.7},{"p":"44","g":"66-33%","x":2.08,"y":2.96},{"p":"44","g":"66-33%","x":1.93,"y":2.81},{"p":"44","g":"66-33%","x":1.86,"y":2.4},{"p":"44","g":"66-33%","x":2.0,"y":2.3},{"p":"44","g":"66-33%","x":2.05,"y":1.47},{"p":"44","g":"66-33%","x":1.93,"y":1.11},{"p":"44","g":"66-33%","x":1.97,"y":2.0},
{"p":"44","g":"0%","x":2.85,"y":2.2},{"p":"44","g":"0%","x":3.02,"y":2.1},{"p":"44","g":"0%","x":3.15,"y":2.2},{"p":"44","g":"0%","x":2.74,"y":1.55},{"p":"44","g":"0%","x":2.88,"y":1.45},{"p":"44","g":"0%","x":3.12,"y":1.36},{"p":"44","g":"0%","x":3.26,"y":1.4},{"p":"44","g":"0%","x":2.8,"y":1.2},{"p":"44","g":"0%","x":2.95,"y":0.92},{"p":"44","g":"0%","x":3.07,"y":0.89},{"p":"44","g":"0%","x":2.93,"y":0.51},{"p":"44","g":"0%","x":2.73,"y":-0.25},{"p":"44","g":"0%","x":2.88,"y":-0.34},{"p":"44","g":"0%","x":3.02,"y":-0.34},{"p":"44","g":"0%","x":3.0,"y":1.3}
]
},
"vconcat": [
{"spacing": 0, "hconcat": [
 {"width": 63, "height": 48, "data": {"values": []}, "mark": "text", "encoding": {"text": {"value": ""}}},
 {"width": 1, "height": 48, "data": {"values": []}, "mark": "text", "encoding": {"text": {"value": ""}}, "view": {"fill": "#333", "stroke": null}},
 {"width": 305, "height": 48, "data": {"values": [{}]}, "mark": {"type": "text", "fontSize": 24, "fontWeight": "bold", "dx": 23, "dy": -2, "color": "#000"}, "encoding": {"text": {"value": "Day 1 p.i."}}},
 {"width": 1, "height": 48, "data": {"values": []}, "mark": "text", "encoding": {"text": {"value": ""}}, "view": {"fill": "#333", "stroke": null}},
 {"width": 299, "height": 48, "data": {"values": [{}]}, "mark": {"type": "text", "fontSize": 24, "fontWeight": "bold", "dx": 19, "dy": -2, "color": "#000"}, "encoding": {"text": {"value": "Day 2 p.i."}}},
 {"width": 1, "height": 48, "data": {"values": []}, "mark": "text", "encoding": {"text": {"value": ""}}, "view": {"fill": "#333", "stroke": null}},
 {"width": 310, "height": 48, "data": {"values": [{}]}, "mark": {"type": "text", "fontSize": 24, "fontWeight": "bold", "dx": 9, "dy": -2, "color": "#000"}, "encoding": {"text": {"value": "Day 3 p.i."}}},
 {"width": 1, "height": 48, "data": {"values": []}, "mark": "text", "encoding": {"text": {"value": ""}}, "view": {"fill": "#333", "stroke": null}},
 {"width": 303, "height": 48, "data": {"values": [{}]}, "mark": {"type": "text", "fontSize": 24, "fontWeight": "bold", "dx": -3, "dy": -2, "color": "#000"}, "encoding": {"text": {"value": "Peak p.i."}}}
]},
{"spacing": 0, "hconcat": [
 {"width": 9, "height": 2, "data": {"values": []}, "mark": "text", "encoding": {"text": {"value": ""}}},
 {"width": 1276, "height": 2, "data": {"values": []}, "mark": "text", "encoding": {"text": {"value": ""}}, "view": {"fill": "#333", "stroke": null}}
]},
{"spacing": 0, "hconcat": [
 {"spacing": 0, "vconcat": [
  {"width": 63, "height": 224, "data": {"values": [{}]}, "mark": {"type": "text", "angle": 270, "fontSize": 23, "fontWeight": "bold", "dy": 5, "color": "#000"}, "encoding": {"text": {"value": "> 4 μm fraction"}}},
  {"width": 63, "height": 264, "data": {"values": [{}]}, "mark": {"type": "text", "angle": 270, "fontSize": 23, "fontWeight": "bold", "dy": 5, "color": "#000"}, "encoding": {"text": {"value": "1-4 μm fraction"}}},
  {"width": 63, "height": 256, "data": {"values": [{}]}, "mark": {"type": "text", "angle": 270, "fontSize": 23, "fontWeight": "bold", "dy": 5, "color": "#000"}, "encoding": {"text": {"value": "<1 μm fraction"}}},
  {"width": 63, "height": 250, "data": {"values": [{}]}, "mark": {"type": "text", "angle": 270, "fontSize": 23, "fontWeight": "bold", "dy": 5, "color": "#000"}, "encoding": {"text": {"value": "Total RNA"}}}
 ]},
 {"width": 1, "height": 1008, "data": {"values": []}, "mark": "text", "encoding": {"text": {"value": ""}}, "view": {"fill": "#333", "stroke": null}},
 {"width": 16, "height": 1, "data": {"values": []}, "mark": "text", "encoding": {"text": {"value": ""}}},
 {"spacing": 0, "vconcat": [
  {"width": 1, "height": 13, "data": {"values": []}, "mark": "text", "encoding": {"text": {"value": ""}}},
  {"width": 242, "height": 159, "layer": [
   {"data": {"name": "sum"}, "transform": [{"filter": "datum.p=='11'"}], "mark": {"type": "rule", "color": "#111", "strokeWidth": 1.5}, "encoding": {"x": {"field": "x", "type": "quantitative", "scale": {"domain": [0.3, 3.75], "zero": false, "nice": false}, "axis": {"values": [1, 2, 3], "labelExpr": "datum.value==1?'100%':datum.value==2?'66-33%':'0%'", "title": "Transmission via air"}}, "y": {"field": "q1", "type": "quantitative", "scale": {"domain": [-1, 8], "zero": false, "nice": false}, "axis": {"values": [-1, 0, 1, 2, 3, 4, 5, 6, 7, 8], "tickCount": 10, "labelExpr": "''+datum.value", "labelOverlap": false, "title": "log₁₀ RNA copies/L air"}}, "y2": {"field": "q3"}}},
   {"data": {"name": "sum"}, "transform": [{"filter": "datum.p=='11'"}, {"fold": ["q1", "q3"], "as": ["k", "v"]}], "mark": {"type": "tick", "orient": "horizontal", "size": 22, "thickness": 1.5, "color": "#111"}, "encoding": {"x": {"field": "x", "type": "quantitative"}, "y": {"field": "v", "type": "quantitative"}}},
   {"data": {"name": "sum"}, "transform": [{"filter": "datum.p=='11'"}], "mark": {"type": "tick", "orient": "horizontal", "size": 46, "thickness": 2, "color": "#111"}, "encoding": {"x": {"field": "x", "type": "quantitative"}, "y": {"field": "med", "type": "quantitative"}}},
   {"data": {"name": "pts"}, "transform": [{"filter": "datum.p=='11'"}], "mark": {"type": "point", "filled": true, "color": "#000", "opacity": 1, "size": 65}, "encoding": {"x": {"field": "x", "type": "quantitative"}, "y": {"field": "y", "type": "quantitative"}, "shape": {"field": "g", "type": "nominal", "scale": {"domain": ["100%", "66-33%", "0%"], "range": ["circle", "square", "triangle-up"]}, "legend": null}}},
   {"data": {"name": "sig"}, "transform": [{"filter": "datum.p=='11'"}], "mark": {"type": "rule", "color": "#333", "strokeWidth": 1.2}, "encoding": {"x": {"field": "x1", "type": "quantitative"}, "x2": {"field": "x2"}, "y": {"field": "y", "type": "quantitative"}}},
   {"data": {"name": "sig"}, "transform": [{"filter": "datum.p=='11'"}, {"fold": ["x1", "x2"], "as": ["k", "v"]}], "mark": {"type": "tick", "orient": "vertical", "size": 7, "thickness": 1.2, "color": "#333"}, "encoding": {"x": {"field": "v", "type": "quantitative"}, "y": {"field": "y", "type": "quantitative"}}},
   {"data": {"name": "sig"}, "transform": [{"filter": "datum.p=='11'"}, {"calculate": "(datum.x1+datum.x2)/2", "as": "xm"}], "mark": {"type": "text", "fontSize": 15, "fontWeight": "bold", "dy": -2, "color": "#222"}, "encoding": {"x": {"field": "xm", "type": "quantitative"}, "y": {"field": "y", "type": "quantitative"}, "text": {"field": "lab"}}}
  ]},
  {"width": 1, "height": 52, "data": {"values": []}, "mark": "text", "encoding": {"text": {"value": ""}}},
  {"width": 242, "height": 159, "layer": [
   {"data": {"name": "sum"}, "transform": [{"filter": "datum.p=='21'"}], "mark": {"type": "rule", "color": "#111", "strokeWidth": 1.5}, "encoding": {"x": {"field": "x", "type": "quantitative", "scale": {"domain": [0.3, 3.75], "zero": false, "nice": false}, "axis": {"values": [1, 2, 3], "labelExpr": "datum.value==1?'100%':datum.value==2?'66-33%':'0%'", "title": "Transmission via air"}}, "y": {"field": "q1", "type": "quantitative", "scale": {"domain": [-1, 8], "zero": false, "nice": false}, "axis": {"values": [-1, 0, 1, 2, 3, 4, 5, 6, 7, 8], "tickCount": 10, "labelExpr": "''+datum.value", "labelOverlap": false, "title": "log₁₀ RNA copies/L air"}}, "y2": {"field": "q3"}}},
   {"data": {"name": "sum"}, "transform": [{"filter": "datum.p=='21'"}, {"fold": ["q1", "q3"], "as": ["k", "v"]}], "mark": {"type": "tick", "orient": "horizontal", "size": 22, "thickness": 1.5, "color": "#111"}, "encoding": {"x": {"field": "x", "type": "quantitative"}, "y": {"field": "v", "type": "quantitative"}}},
   {"data": {"name": "sum"}, "transform": [{"filter": "datum.p=='21'"}], "mark": {"type": "tick", "orient": "horizontal", "size": 46, "thickness": 2, "color": "#111"}, "encoding": {"x": {"field": "x", "type": "quantitative"}, "y": {"field": "med", "type": "quantitative"}}},
   {"data": {"name": "pts"}, "transform": [{"filter": "datum.p=='21'"}], "mark": {"type": "point", "filled": true, "color": "#000", "opacity": 1, "size": 65}, "encoding": {"x": {"field": "x", "type": "quantitative"}, "y": {"field": "y", "type": "quantitative"}, "shape": {"field": "g", "type": "nominal", "scale": {"domain": ["100%", "66-33%", "0%"], "range": ["circle", "square", "triangle-up"]}, "legend": null}}},
   {"data": {"name": "sig"}, "transform": [{"filter": "datum.p=='21'"}], "mark": {"type": "rule", "color": "#333", "strokeWidth": 1.2}, "encoding": {"x": {"field": "x1", "type": "quantitative"}, "x2": {"field": "x2"}, "y": {"field": "y", "type": "quantitative"}}},
   {"data": {"name": "sig"}, "transform": [{"filter": "datum.p=='21'"}, {"fold": ["x1", "x2"], "as": ["k", "v"]}], "mark": {"type": "tick", "orient": "vertical", "size": 7, "thickness": 1.2, "color": "#333"}, "encoding": {"x": {"field": "v", "type": "quantitative"}, "y": {"field": "y", "type": "quantitative"}}},
   {"data": {"name": "sig"}, "transform": [{"filter": "datum.p=='21'"}, {"calculate": "(datum.x1+datum.x2)/2", "as": "xm"}], "mark": {"type": "text", "fontSize": 15, "fontWeight": "bold", "dy": -2, "color": "#222"}, "encoding": {"x": {"field": "xm", "type": "quantitative"}, "y": {"field": "y", "type": "quantitative"}, "text": {"field": "lab"}}}
  ]},
  {"width": 1, "height": 44, "data": {"values": []}, "mark": "text", "encoding": {"text": {"value": ""}}},
  {"width": 242, "height": 159, "layer": [
   {"data": {"name": "sum"}, "transform": [{"filter": "datum.p=='31'"}], "mark": {"type": "rule", "color": "#111", "strokeWidth": 1.5}, "encoding": {"x": {"field": "x", "type": "quantitative", "scale": {"domain": [0.3, 3.75], "zero": false, "nice": false}, "axis": {"values": [1, 2, 3], "labelExpr": "datum.value==1?'100%':datum.value==2?'66-33%':'0%'", "title": "Transmission via air"}}, "y": {"field": "q1", "type": "quantitative", "scale": {"domain": [-1, 8], "zero": false, "nice": false}, "axis": {"values": [-1, 0, 1, 2, 3, 4, 5, 6, 7, 8], "tickCount": 10, "labelExpr": "''+datum.value", "labelOverlap": false, "title": "log₁₀ RNA copies/L air"}}, "y2": {"field": "q3"}}},
   {"data": {"name": "sum"}, "transform": [{"filter": "datum.p=='31'"}, {"fold": ["q1", "q3"], "as": ["k", "v"]}], "mark": {"type": "tick", "orient": "horizontal", "size": 22, "thickness": 1.5, "color": "#111"}, "encoding": {"x": {"field": "x", "type": "quantitative"}, "y": {"field": "v", "type": "quantitative"}}},
   {"data": {"name": "sum"}, "transform": [{"filter": "datum.p=='31'"}], "mark": {"type": "tick", "orient": "horizontal", "size": 46, "thickness": 2, "color": "#111"}, "encoding": {"x": {"field": "x", "type": "quantitative"}, "y": {"field": "med", "type": "quantitative"}}},
   {"data": {"name": "pts"}, "transform": [{"filter": "datum.p=='31'"}], "mark": {"type": "point", "filled": true, "color": "#000", "opacity": 1, "size": 65}, "encoding": {"x": {"field": "x", "type": "quantitative"}, "y": {"field": "y", "type": "quantitative"}, "shape": {"field": "g", "type": "nominal", "scale": {"domain": ["100%", "66-33%", "0%"], "range": ["circle", "square", "triangle-up"]}, "legend": null}}}
  ]},
  {"width": 1, "height": 35, "data": {"values": []}, "mark": "text", "encoding": {"text": {"value": ""}}},
  {"width": 242, "height": 159, "layer": [
   {"data": {"name": "sum"}, "transform": [{"filter": "datum.p=='41'"}], "mark": {"type": "rule", "color": "#111", "strokeWidth": 1.5}, "encoding": {"x": {"field": "x", "type": "quantitative", "scale": {"domain": [0.3, 3.75], "zero": false, "nice": false}, "axis": {"values": [1, 2, 3], "labelExpr": "datum.value==1?'100%':datum.value==2?'66-33%':'0%'", "title": "Transmission via air"}}, "y": {"field": "q1", "type": "quantitative", "scale": {"domain": [-1, 8], "zero": false, "nice": false}, "axis": {"values": [-1, 0, 1, 2, 3, 4, 5, 6, 7, 8], "tickCount": 10, "labelExpr": "''+datum.value", "labelOverlap": false, "title": "log₁₀ RNA copies/L air"}}, "y2": {"field": "q3"}}},
   {"data": {"name": "sum"}, "transform": [{"filter": "datum.p=='41'"}, {"fold": ["q1", "q3"], "as": ["k", "v"]}], "mark": {"type": "tick", "orient": "horizontal", "size": 22, "thickness": 1.5, "color": "#111"}, "encoding": {"x": {"field": "x", "type": "quantitative"}, "y": {"field": "v", "type": "quantitative"}}},
   {"data": {"name": "sum"}, "transform": [{"filter": "datum.p=='41'"}], "mark": {"type": "tick", "orient": "horizontal", "size": 46, "thickness": 2, "color": "#111"}, "encoding": {"x": {"field": "x", "type": "quantitative"}, "y": {"field": "med", "type": "quantitative"}}},
   {"data": {"name": "pts"}, "transform": [{"filter": "datum.p=='41'"}], "mark": {"type": "point", "filled": true, "color": "#000", "opacity": 1, "size": 65}, "encoding": {"x": {"field": "x", "type": "quantitative"}, "y": {"field": "y", "type": "quantitative"}, "shape": {"field": "g", "type": "nominal", "scale": {"domain": ["100%", "66-33%", "0%"], "range": ["circle", "square", "triangle-up"]}, "legend": null}}},
   {"data": {"name": "sig"}, "transform": [{"filter": "datum.p=='41'"}], "mark": {"type": "rule", "color": "#333", "strokeWidth": 1.2}, "encoding": {"x": {"field": "x1", "type": "quantitative"}, "x2": {"field": "x2"}, "y": {"field": "y", "type": "quantitative"}}},
   {"data": {"name": "sig"}, "transform": [{"filter": "datum.p=='41'"}, {"fold": ["x1", "x2"], "as": ["k", "v"]}], "mark": {"type": "tick", "orient": "vertical", "size": 7, "thickness": 1.2, "color": "#333"}, "encoding": {"x": {"field": "v", "type": "quantitative"}, "y": {"field": "y", "type": "quantitative"}}},
   {"data": {"name": "sig"}, "transform": [{"filter": "datum.p=='41'"}, {"calculate": "(datum.x1+datum.x2)/2", "as": "xm"}], "mark": {"type": "text", "fontSize": 15, "fontWeight": "bold", "dy": -2, "color": "#222"}, "encoding": {"x": {"field": "xm", "type": "quantitative"}, "y": {"field": "y", "type": "quantitative"}, "text": {"field": "lab"}}}
  ]}
 ]},
 {"width": 8, "height": 1, "data": {"values": []}, "mark": "text", "encoding": {"text": {"value": ""}}},
 {"width": 1, "height": 1008, "data": {"values": []}, "mark": "text", "encoding": {"text": {"value": ""}}, "view": {"fill": "#333", "stroke": null}},
 {"width": 11, "height": 1, "data": {"values": []}, "mark": "text", "encoding": {"text": {"value": ""}}},
 {"spacing": 0, "vconcat": [
  {"width": 1, "height": 13, "data": {"values": []}, "mark": "text", "encoding": {"text": {"value": ""}}},
  {"width": 242, "height": 159, "layer": [
   {"data": {"name": "sum"}, "transform": [{"filter": "datum.p=='12'"}], "mark": {"type": "rule", "color": "#111", "strokeWidth": 1.5}, "encoding": {"x": {"field": "x", "type": "quantitative", "scale": {"domain": [0.3, 3.75], "zero": false, "nice": false}, "axis": {"values": [1, 2, 3], "labelExpr": "datum.value==1?'100%':datum.value==2?'66-33%':'0%'", "title": "Transmission via air"}}, "y": {"field": "q1", "type": "quantitative", "scale": {"domain": [-1, 8], "zero": false, "nice": false}, "axis": {"values": [-1, 0, 1, 2, 3, 4, 5, 6, 7, 8], "tickCount": 10, "labelExpr": "''+datum.value", "labelOverlap": false, "title": "log₁₀ RNA copies/L air"}}, "y2": {"field": "q3"}}},
   {"data": {"name": "sum"}, "transform": [{"filter": "datum.p=='12'"}, {"fold": ["q1", "q3"], "as": ["k", "v"]}], "mark": {"type": "tick", "orient": "horizontal", "size": 22, "thickness": 1.5, "color": "#111"}, "encoding": {"x": {"field": "x", "type": "quantitative"}, "y": {"field": "v", "type": "quantitative"}}},
   {"data": {"name": "sum"}, "transform": [{"filter": "datum.p=='12'"}], "mark": {"type": "tick", "orient": "horizontal", "size": 46, "thickness": 2, "color": "#111"}, "encoding": {"x": {"field": "x", "type": "quantitative"}, "y": {"field": "med", "type": "quantitative"}}},
   {"data": {"name": "pts"}, "transform": [{"filter": "datum.p=='12'"}], "mark": {"type": "point", "filled": true, "color": "#000", "opacity": 1, "size": 65}, "encoding": {"x": {"field": "x", "type": "quantitative"}, "y": {"field": "y", "type": "quantitative"}, "shape": {"field": "g", "type": "nominal", "scale": {"domain": ["100%", "66-33%", "0%"], "range": ["circle", "square", "triangle-up"]}, "legend": null}}},
   {"data": {"name": "sig"}, "transform": [{"filter": "datum.p=='12'"}], "mark": {"type": "rule", "color": "#333", "strokeWidth": 1.2}, "encoding": {"x": {"field": "x1", "type": "quantitative"}, "x2": {"field": "x2"}, "y": {"field": "y", "type": "quantitative"}}},
   {"data": {"name": "sig"}, "transform": [{"filter": "datum.p=='12'"}, {"fold": ["x1", "x2"], "as": ["k", "v"]}], "mark": {"type": "tick", "orient": "vertical", "size": 7, "thickness": 1.2, "color": "#333"}, "encoding": {"x": {"field": "v", "type": "quantitative"}, "y": {"field": "y", "type": "quantitative"}}},
   {"data": {"name": "sig"}, "transform": [{"filter": "datum.p=='12'"}, {"calculate": "(datum.x1+datum.x2)/2", "as": "xm"}], "mark": {"type": "text", "fontSize": 15, "fontWeight": "bold", "dy": -2, "color": "#222"}, "encoding": {"x": {"field": "xm", "type": "quantitative"}, "y": {"field": "y", "type": "quantitative"}, "text": {"field": "lab"}}}
  ]},
  {"width": 1, "height": 52, "data": {"values": []}, "mark": "text", "encoding": {"text": {"value": ""}}},
  {"width": 242, "height": 159, "layer": [
   {"data": {"name": "sum"}, "transform": [{"filter": "datum.p=='22'"}], "mark": {"type": "rule", "color": "#111", "strokeWidth": 1.5}, "encoding": {"x": {"field": "x", "type": "quantitative", "scale": {"domain": [0.3, 3.75], "zero": false, "nice": false}, "axis": {"values": [1, 2, 3], "labelExpr": "datum.value==1?'100%':datum.value==2?'66-33%':'0%'", "title": "Transmission via air"}}, "y": {"field": "q1", "type": "quantitative", "scale": {"domain": [-1, 8], "zero": false, "nice": false}, "axis": {"values": [-1, 0, 1, 2, 3, 4, 5, 6, 7, 8], "tickCount": 10, "labelExpr": "''+datum.value", "labelOverlap": false, "title": "log₁₀ RNA copies/L air"}}, "y2": {"field": "q3"}}},
   {"data": {"name": "sum"}, "transform": [{"filter": "datum.p=='22'"}, {"fold": ["q1", "q3"], "as": ["k", "v"]}], "mark": {"type": "tick", "orient": "horizontal", "size": 22, "thickness": 1.5, "color": "#111"}, "encoding": {"x": {"field": "x", "type": "quantitative"}, "y": {"field": "v", "type": "quantitative"}}},
   {"data": {"name": "sum"}, "transform": [{"filter": "datum.p=='22'"}], "mark": {"type": "tick", "orient": "horizontal", "size": 46, "thickness": 2, "color": "#111"}, "encoding": {"x": {"field": "x", "type": "quantitative"}, "y": {"field": "med", "type": "quantitative"}}},
   {"data": {"name": "pts"}, "transform": [{"filter": "datum.p=='22'"}], "mark": {"type": "point", "filled": true, "color": "#000", "opacity": 1, "size": 65}, "encoding": {"x": {"field": "x", "type": "quantitative"}, "y": {"field": "y", "type": "quantitative"}, "shape": {"field": "g", "type": "nominal", "scale": {"domain": ["100%", "66-33%", "0%"], "range": ["circle", "square", "triangle-up"]}, "legend": null}}},
   {"data": {"name": "sig"}, "transform": [{"filter": "datum.p=='22'"}], "mark": {"type": "rule", "color": "#333", "strokeWidth": 1.2}, "encoding": {"x": {"field": "x1", "type": "quantitative"}, "x2": {"field": "x2"}, "y": {"field": "y", "type": "quantitative"}}},
   {"data": {"name": "sig"}, "transform": [{"filter": "datum.p=='22'"}, {"fold": ["x1", "x2"], "as": ["k", "v"]}], "mark": {"type": "tick", "orient": "vertical", "size": 7, "thickness": 1.2, "color": "#333"}, "encoding": {"x": {"field": "v", "type": "quantitative"}, "y": {"field": "y", "type": "quantitative"}}},
   {"data": {"name": "sig"}, "transform": [{"filter": "datum.p=='22'"}, {"calculate": "(datum.x1+datum.x2)/2", "as": "xm"}], "mark": {"type": "text", "fontSize": 15, "fontWeight": "bold", "dy": -2, "color": "#222"}, "encoding": {"x": {"field": "xm", "type": "quantitative"}, "y": {"field": "y", "type": "quantitative"}, "text": {"field": "lab"}}}
  ]},
  {"width": 1, "height": 44, "data": {"values": []}, "mark": "text", "encoding": {"text": {"value": ""}}},
  {"width": 242, "height": 159, "layer": [
   {"data": {"name": "sum"}, "transform": [{"filter": "datum.p=='32'"}], "mark": {"type": "rule", "color": "#111", "strokeWidth": 1.5}, "encoding": {"x": {"field": "x", "type": "quantitative", "scale": {"domain": [0.3, 3.75], "zero": false, "nice": false}, "axis": {"values": [1, 2, 3], "labelExpr": "datum.value==1?'100%':datum.value==2?'66-33%':'0%'", "title": "Transmission via air"}}, "y": {"field": "q1", "type": "quantitative", "scale": {"domain": [-1, 8], "zero": false, "nice": false}, "axis": {"values": [-1, 0, 1, 2, 3, 4, 5, 6, 7, 8], "tickCount": 10, "labelExpr": "''+datum.value", "labelOverlap": false, "title": "log₁₀ RNA copies/L air"}}, "y2": {"field": "q3"}}},
   {"data": {"name": "sum"}, "transform": [{"filter": "datum.p=='32'"}, {"fold": ["q1", "q3"], "as": ["k", "v"]}], "mark": {"type": "tick", "orient": "horizontal", "size": 22, "thickness": 1.5, "color": "#111"}, "encoding": {"x": {"field": "x", "type": "quantitative"}, "y": {"field": "v", "type": "quantitative"}}},
   {"data": {"name": "sum"}, "transform": [{"filter": "datum.p=='32'"}], "mark": {"type": "tick", "orient": "horizontal", "size": 46, "thickness": 2, "color": "#111"}, "encoding": {"x": {"field": "x", "type": "quantitative"}, "y": {"field": "med", "type": "quantitative"}}},
   {"data": {"name": "pts"}, "transform": [{"filter": "datum.p=='32'"}], "mark": {"type": "point", "filled": true, "color": "#000", "opacity": 1, "size": 65}, "encoding": {"x": {"field": "x", "type": "quantitative"}, "y": {"field": "y", "type": "quantitative"}, "shape": {"field": "g", "type": "nominal", "scale": {"domain": ["100%", "66-33%", "0%"], "range": ["circle", "square", "triangle-up"]}, "legend": null}}}
  ]},
  {"width": 1, "height": 35, "data": {"values": []}, "mark": "text", "encoding": {"text": {"value": ""}}},
  {"width": 242, "height": 159, "layer": [
   {"data": {"name": "sum"}, "transform": [{"filter": "datum.p=='42'"}], "mark": {"type": "rule", "color": "#111", "strokeWidth": 1.5}, "encoding": {"x": {"field": "x", "type": "quantitative", "scale": {"domain": [0.3, 3.75], "zero": false, "nice": false}, "axis": {"values": [1, 2, 3], "labelExpr": "datum.value==1?'100%':datum.value==2?'66-33%':'0%'", "title": "Transmission via air"}}, "y": {"field": "q1", "type": "quantitative", "scale": {"domain": [-1, 8], "zero": false, "nice": false}, "axis": {"values": [-1, 0, 1, 2, 3, 4, 5, 6, 7, 8], "tickCount": 10, "labelExpr": "''+datum.value", "labelOverlap": false, "title": "log₁₀ RNA copies/L air"}}, "y2": {"field": "q3"}}},
   {"data": {"name": "sum"}, "transform": [{"filter": "datum.p=='42'"}, {"fold": ["q1", "q3"], "as": ["k", "v"]}], "mark": {"type": "tick", "orient": "horizontal", "size": 22, "thickness": 1.5, "color": "#111"}, "encoding": {"x": {"field": "x", "type": "quantitative"}, "y": {"field": "v", "type": "quantitative"}}},
   {"data": {"name": "sum"}, "transform": [{"filter": "datum.p=='42'"}], "mark": {"type": "tick", "orient": "horizontal", "size": 46, "thickness": 2, "color": "#111"}, "encoding": {"x": {"field": "x", "type": "quantitative"}, "y": {"field": "med", "type": "quantitative"}}},
   {"data": {"name": "pts"}, "transform": [{"filter": "datum.p=='42'"}], "mark": {"type": "point", "filled": true, "color": "#000", "opacity": 1, "size": 65}, "encoding": {"x": {"field": "x", "type": "quantitative"}, "y": {"field": "y", "type": "quantitative"}, "shape": {"field": "g", "type": "nominal", "scale": {"domain": ["100%", "66-33%", "0%"], "range": ["circle", "square", "triangle-up"]}, "legend": null}}},
   {"data": {"name": "sig"}, "transform": [{"filter": "datum.p=='42'"}], "mark": {"type": "rule", "color": "#333", "strokeWidth": 1.2}, "encoding": {"x": {"field": "x1", "type": "quantitative"}, "x2": {"field": "x2"}, "y": {"field": "y", "type": "quantitative"}}},
   {"data": {"name": "sig"}, "transform": [{"filter": "datum.p=='42'"}, {"fold": ["x1", "x2"], "as": ["k", "v"]}], "mark": {"type": "tick", "orient": "vertical", "size": 7, "thickness": 1.2, "color": "#333"}, "encoding": {"x": {"field": "v", "type": "quantitative"}, "y": {"field": "y", "type": "quantitative"}}},
   {"data": {"name": "sig"}, "transform": [{"filter": "datum.p=='42'"}, {"calculate": "(datum.x1+datum.x2)/2", "as": "xm"}], "mark": {"type": "text", "fontSize": 15, "fontWeight": "bold", "dy": -2, "color": "#222"}, "encoding": {"x": {"field": "xm", "type": "quantitative"}, "y": {"field": "y", "type": "quantitative"}, "text": {"field": "lab"}}}
  ]}
 ]},
 {"width": 7, "height": 1, "data": {"values": []}, "mark": "text", "encoding": {"text": {"value": ""}}},
 {"width": 1, "height": 1008, "data": {"values": []}, "mark": "text", "encoding": {"text": {"value": ""}}, "view": {"fill": "#333", "stroke": null}},
 {"width": 12, "height": 1, "data": {"values": []}, "mark": "text", "encoding": {"text": {"value": ""}}},
 {"spacing": 0, "vconcat": [
  {"width": 1, "height": 13, "data": {"values": []}, "mark": "text", "encoding": {"text": {"value": ""}}},
  {"width": 242, "height": 159, "layer": [
   {"data": {"name": "sum"}, "transform": [{"filter": "datum.p=='13'"}], "mark": {"type": "rule", "color": "#111", "strokeWidth": 1.5}, "encoding": {"x": {"field": "x", "type": "quantitative", "scale": {"domain": [0.3, 3.75], "zero": false, "nice": false}, "axis": {"values": [1, 2, 3], "labelExpr": "datum.value==1?'100%':datum.value==2?'66-33%':'0%'", "title": "Transmission via air"}}, "y": {"field": "q1", "type": "quantitative", "scale": {"domain": [-1, 8], "zero": false, "nice": false}, "axis": {"values": [-1, 0, 1, 2, 3, 4, 5, 6, 7, 8], "tickCount": 10, "labelExpr": "''+datum.value", "labelOverlap": false, "title": "log₁₀ RNA copies/L air"}}, "y2": {"field": "q3"}}},
   {"data": {"name": "sum"}, "transform": [{"filter": "datum.p=='13'"}, {"fold": ["q1", "q3"], "as": ["k", "v"]}], "mark": {"type": "tick", "orient": "horizontal", "size": 22, "thickness": 1.5, "color": "#111"}, "encoding": {"x": {"field": "x", "type": "quantitative"}, "y": {"field": "v", "type": "quantitative"}}},
   {"data": {"name": "sum"}, "transform": [{"filter": "datum.p=='13'"}], "mark": {"type": "tick", "orient": "horizontal", "size": 46, "thickness": 2, "color": "#111"}, "encoding": {"x": {"field": "x", "type": "quantitative"}, "y": {"field": "med", "type": "quantitative"}}},
   {"data": {"name": "pts"}, "transform": [{"filter": "datum.p=='13'"}], "mark": {"type": "point", "filled": true, "color": "#000", "opacity": 1, "size": 65}, "encoding": {"x": {"field": "x", "type": "quantitative"}, "y": {"field": "y", "type": "quantitative"}, "shape": {"field": "g", "type": "nominal", "scale": {"domain": ["100%", "66-33%", "0%"], "range": ["circle", "square", "triangle-up"]}, "legend": null}}},
   {"data": {"name": "sig"}, "transform": [{"filter": "datum.p=='13'"}], "mark": {"type": "rule", "color": "#333", "strokeWidth": 1.2}, "encoding": {"x": {"field": "x1", "type": "quantitative"}, "x2": {"field": "x2"}, "y": {"field": "y", "type": "quantitative"}}},
   {"data": {"name": "sig"}, "transform": [{"filter": "datum.p=='13'"}, {"fold": ["x1", "x2"], "as": ["k", "v"]}], "mark": {"type": "tick", "orient": "vertical", "size": 7, "thickness": 1.2, "color": "#333"}, "encoding": {"x": {"field": "v", "type": "quantitative"}, "y": {"field": "y", "type": "quantitative"}}},
   {"data": {"name": "sig"}, "transform": [{"filter": "datum.p=='13'"}, {"calculate": "(datum.x1+datum.x2)/2", "as": "xm"}], "mark": {"type": "text", "fontSize": 15, "fontWeight": "bold", "dy": -2, "color": "#222"}, "encoding": {"x": {"field": "xm", "type": "quantitative"}, "y": {"field": "y", "type": "quantitative"}, "text": {"field": "lab"}}}
  ]},
  {"width": 1, "height": 52, "data": {"values": []}, "mark": "text", "encoding": {"text": {"value": ""}}},
  {"width": 242, "height": 159, "layer": [
   {"data": {"name": "sum"}, "transform": [{"filter": "datum.p=='23'"}], "mark": {"type": "rule", "color": "#111", "strokeWidth": 1.5}, "encoding": {"x": {"field": "x", "type": "quantitative", "scale": {"domain": [0.3, 3.75], "zero": false, "nice": false}, "axis": {"values": [1, 2, 3], "labelExpr": "datum.value==1?'100%':datum.value==2?'66-33%':'0%'", "title": "Transmission via air"}}, "y": {"field": "q1", "type": "quantitative", "scale": {"domain": [-1, 8], "zero": false, "nice": false}, "axis": {"values": [-1, 0, 1, 2, 3, 4, 5, 6, 7, 8], "tickCount": 10, "labelExpr": "''+datum.value", "labelOverlap": false, "title": "log₁₀ RNA copies/L air"}}, "y2": {"field": "q3"}}},
   {"data": {"name": "sum"}, "transform": [{"filter": "datum.p=='23'"}, {"fold": ["q1", "q3"], "as": ["k", "v"]}], "mark": {"type": "tick", "orient": "horizontal", "size": 22, "thickness": 1.5, "color": "#111"}, "encoding": {"x": {"field": "x", "type": "quantitative"}, "y": {"field": "v", "type": "quantitative"}}},
   {"data": {"name": "sum"}, "transform": [{"filter": "datum.p=='23'"}], "mark": {"type": "tick", "orient": "horizontal", "size": 46, "thickness": 2, "color": "#111"}, "encoding": {"x": {"field": "x", "type": "quantitative"}, "y": {"field": "med", "type": "quantitative"}}},
   {"data": {"name": "pts"}, "transform": [{"filter": "datum.p=='23'"}], "mark": {"type": "point", "filled": true, "color": "#000", "opacity": 1, "size": 65}, "encoding": {"x": {"field": "x", "type": "quantitative"}, "y": {"field": "y", "type": "quantitative"}, "shape": {"field": "g", "type": "nominal", "scale": {"domain": ["100%", "66-33%", "0%"], "range": ["circle", "square", "triangle-up"]}, "legend": null}}},
   {"data": {"name": "sig"}, "transform": [{"filter": "datum.p=='23'"}], "mark": {"type": "rule", "color": "#333", "strokeWidth": 1.2}, "encoding": {"x": {"field": "x1", "type": "quantitative"}, "x2": {"field": "x2"}, "y": {"field": "y", "type": "quantitative"}}},
   {"data": {"name": "sig"}, "transform": [{"filter": "datum.p=='23'"}, {"fold": ["x1", "x2"], "as": ["k", "v"]}], "mark": {"type": "tick", "orient": "vertical", "size": 7, "thickness": 1.2, "color": "#333"}, "encoding": {"x": {"field": "v", "type": "quantitative"}, "y": {"field": "y", "type": "quantitative"}}},
   {"data": {"name": "sig"}, "transform": [{"filter": "datum.p=='23'"}, {"calculate": "(datum.x1+datum.x2)/2", "as": "xm"}], "mark": {"type": "text", "fontSize": 15, "fontWeight": "bold", "dy": -2, "color": "#222"}, "encoding": {"x": {"field": "xm", "type": "quantitative"}, "y": {"field": "y", "type": "quantitative"}, "text": {"field": "lab"}}}
  ]},
  {"width": 1, "height": 44, "data": {"values": []}, "mark": "text", "encoding": {"text": {"value": ""}}},
  {"width": 242, "height": 159, "layer": [
   {"data": {"name": "sum"}, "transform": [{"filter": "datum.p=='33'"}], "mark": {"type": "rule", "color": "#111", "strokeWidth": 1.5}, "encoding": {"x": {"field": "x", "type": "quantitative", "scale": {"domain": [0.3, 3.75], "zero": false, "nice": false}, "axis": {"values": [1, 2, 3], "labelExpr": "datum.value==1?'100%':datum.value==2?'66-33%':'0%'", "title": "Transmission via air"}}, "y": {"field": "q1", "type": "quantitative", "scale": {"domain": [-1, 8], "zero": false, "nice": false}, "axis": {"values": [-1, 0, 1, 2, 3, 4, 5, 6, 7, 8], "tickCount": 10, "labelExpr": "''+datum.value", "labelOverlap": false, "title": "log₁₀ RNA copies/L air"}}, "y2": {"field": "q3"}}},
   {"data": {"name": "sum"}, "transform": [{"filter": "datum.p=='33'"}, {"fold": ["q1", "q3"], "as": ["k", "v"]}], "mark": {"type": "tick", "orient": "horizontal", "size": 22, "thickness": 1.5, "color": "#111"}, "encoding": {"x": {"field": "x", "type": "quantitative"}, "y": {"field": "v", "type": "quantitative"}}},
   {"data": {"name": "sum"}, "transform": [{"filter": "datum.p=='33'"}], "mark": {"type": "tick", "orient": "horizontal", "size": 46, "thickness": 2, "color": "#111"}, "encoding": {"x": {"field": "x", "type": "quantitative"}, "y": {"field": "med", "type": "quantitative"}}},
   {"data": {"name": "pts"}, "transform": [{"filter": "datum.p=='33'"}], "mark": {"type": "point", "filled": true, "color": "#000", "opacity": 1, "size": 65}, "encoding": {"x": {"field": "x", "type": "quantitative"}, "y": {"field": "y", "type": "quantitative"}, "shape": {"field": "g", "type": "nominal", "scale": {"domain": ["100%", "66-33%", "0%"], "range": ["circle", "square", "triangle-up"]}, "legend": null}}},
   {"data": {"name": "sig"}, "transform": [{"filter": "datum.p=='33'"}], "mark": {"type": "rule", "color": "#333", "strokeWidth": 1.2}, "encoding": {"x": {"field": "x1", "type": "quantitative"}, "x2": {"field": "x2"}, "y": {"field": "y", "type": "quantitative"}}},
   {"data": {"name": "sig"}, "transform": [{"filter": "datum.p=='33'"}, {"fold": ["x1", "x2"], "as": ["k", "v"]}], "mark": {"type": "tick", "orient": "vertical", "size": 7, "thickness": 1.2, "color": "#333"}, "encoding": {"x": {"field": "v", "type": "quantitative"}, "y": {"field": "y", "type": "quantitative"}}},
   {"data": {"name": "sig"}, "transform": [{"filter": "datum.p=='33'"}, {"calculate": "(datum.x1+datum.x2)/2", "as": "xm"}], "mark": {"type": "text", "fontSize": 15, "fontWeight": "bold", "dy": -2, "color": "#222"}, "encoding": {"x": {"field": "xm", "type": "quantitative"}, "y": {"field": "y", "type": "quantitative"}, "text": {"field": "lab"}}}
  ]},
  {"width": 1, "height": 35, "data": {"values": []}, "mark": "text", "encoding": {"text": {"value": ""}}},
  {"width": 242, "height": 159, "layer": [
   {"data": {"name": "sum"}, "transform": [{"filter": "datum.p=='43'"}], "mark": {"type": "rule", "color": "#111", "strokeWidth": 1.5}, "encoding": {"x": {"field": "x", "type": "quantitative", "scale": {"domain": [0.3, 3.75], "zero": false, "nice": false}, "axis": {"values": [1, 2, 3], "labelExpr": "datum.value==1?'100%':datum.value==2?'66-33%':'0%'", "title": "Transmission via air"}}, "y": {"field": "q1", "type": "quantitative", "scale": {"domain": [-1, 8], "zero": false, "nice": false}, "axis": {"values": [-1, 0, 1, 2, 3, 4, 5, 6, 7, 8], "tickCount": 10, "labelExpr": "''+datum.value", "labelOverlap": false, "title": "log₁₀ RNA copies/L air"}}, "y2": {"field": "q3"}}},
   {"data": {"name": "sum"}, "transform": [{"filter": "datum.p=='43'"}, {"fold": ["q1", "q3"], "as": ["k", "v"]}], "mark": {"type": "tick", "orient": "horizontal", "size": 22, "thickness": 1.5, "color": "#111"}, "encoding": {"x": {"field": "x", "type": "quantitative"}, "y": {"field": "v", "type": "quantitative"}}},
   {"data": {"name": "sum"}, "transform": [{"filter": "datum.p=='43'"}], "mark": {"type": "tick", "orient": "horizontal", "size": 46, "thickness": 2, "color": "#111"}, "encoding": {"x": {"field": "x", "type": "quantitative"}, "y": {"field": "med", "type": "quantitative"}}},
   {"data": {"name": "pts"}, "transform": [{"filter": "datum.p=='43'"}], "mark": {"type": "point", "filled": true, "color": "#000", "opacity": 1, "size": 65}, "encoding": {"x": {"field": "x", "type": "quantitative"}, "y": {"field": "y", "type": "quantitative"}, "shape": {"field": "g", "type": "nominal", "scale": {"domain": ["100%", "66-33%", "0%"], "range": ["circle", "square", "triangle-up"]}, "legend": null}}},
   {"data": {"name": "sig"}, "transform": [{"filter": "datum.p=='43'"}], "mark": {"type": "rule", "color": "#333", "strokeWidth": 1.2}, "encoding": {"x": {"field": "x1", "type": "quantitative"}, "x2": {"field": "x2"}, "y": {"field": "y", "type": "quantitative"}}},
   {"data": {"name": "sig"}, "transform": [{"filter": "datum.p=='43'"}, {"fold": ["x1", "x2"], "as": ["k", "v"]}], "mark": {"type": "tick", "orient": "vertical", "size": 7, "thickness": 1.2, "color": "#333"}, "encoding": {"x": {"field": "v", "type": "quantitative"}, "y": {"field": "y", "type": "quantitative"}}},
   {"data": {"name": "sig"}, "transform": [{"filter": "datum.p=='43'"}, {"calculate": "(datum.x1+datum.x2)/2", "as": "xm"}], "mark": {"type": "text", "fontSize": 15, "fontWeight": "bold", "dy": -2, "color": "#222"}, "encoding": {"x": {"field": "xm", "type": "quantitative"}, "y": {"field": "y", "type": "quantitative"}, "text": {"field": "lab"}}}
  ]}
 ]},
 {"width": 17, "height": 1, "data": {"values": []}, "mark": "text", "encoding": {"text": {"value": ""}}},
 {"width": 1, "height": 1008, "data": {"values": []}, "mark": "text", "encoding": {"text": {"value": ""}}, "view": {"fill": "#333", "stroke": null}},
 {"width": 20, "height": 1, "data": {"values": []}, "mark": "text", "encoding": {"text": {"value": ""}}},
 {"spacing": 0, "vconcat": [
  {"width": 1, "height": 16, "data": {"values": []}, "mark": "text", "encoding": {"text": {"value": ""}}},
  {"width": 242, "height": 159, "layer": [
   {"data": {"name": "sum"}, "transform": [{"filter": "datum.p=='14'"}], "mark": {"type": "rule", "color": "#111", "strokeWidth": 1.5}, "encoding": {"x": {"field": "x", "type": "quantitative", "scale": {"domain": [0.3, 3.75], "zero": false, "nice": false}, "axis": {"values": [1, 2, 3], "labelExpr": "datum.value==1?'100%':datum.value==2?'66-33%':'0%'", "title": "Transmission via air"}}, "y": {"field": "q1", "type": "quantitative", "scale": {"domain": [-1, 8], "zero": false, "nice": false}, "axis": {"values": [-1, 0, 1, 2, 3, 4, 5, 6, 7, 8], "tickCount": 10, "labelExpr": "''+datum.value", "labelOverlap": false, "labelFontSize": 13, "title": "log₁₀ RNA copies/L air"}}, "y2": {"field": "q3"}}},
   {"data": {"name": "sum"}, "transform": [{"filter": "datum.p=='14'"}, {"fold": ["q1", "q3"], "as": ["k", "v"]}], "mark": {"type": "tick", "orient": "horizontal", "size": 22, "thickness": 1.5, "color": "#111"}, "encoding": {"x": {"field": "x", "type": "quantitative"}, "y": {"field": "v", "type": "quantitative"}}},
   {"data": {"name": "sum"}, "transform": [{"filter": "datum.p=='14'"}], "mark": {"type": "tick", "orient": "horizontal", "size": 46, "thickness": 2, "color": "#111"}, "encoding": {"x": {"field": "x", "type": "quantitative"}, "y": {"field": "med", "type": "quantitative"}}},
   {"data": {"name": "pts"}, "transform": [{"filter": "datum.p=='14'"}], "mark": {"type": "point", "filled": true, "color": "#000", "opacity": 1, "size": 65}, "encoding": {"x": {"field": "x", "type": "quantitative"}, "y": {"field": "y", "type": "quantitative"}, "shape": {"field": "g", "type": "nominal", "scale": {"domain": ["100%", "66-33%", "0%"], "range": ["circle", "square", "triangle-up"]}, "legend": null}}},
   {"data": {"name": "sig"}, "transform": [{"filter": "datum.p=='14'"}], "mark": {"type": "rule", "color": "#333", "strokeWidth": 1.2}, "encoding": {"x": {"field": "x1", "type": "quantitative"}, "x2": {"field": "x2"}, "y": {"field": "y", "type": "quantitative"}}},
   {"data": {"name": "sig"}, "transform": [{"filter": "datum.p=='14'"}, {"fold": ["x1", "x2"], "as": ["k", "v"]}], "mark": {"type": "tick", "orient": "vertical", "size": 7, "thickness": 1.2, "color": "#333"}, "encoding": {"x": {"field": "v", "type": "quantitative"}, "y": {"field": "y", "type": "quantitative"}}},
   {"data": {"name": "sig"}, "transform": [{"filter": "datum.p=='14'"}, {"calculate": "(datum.x1+datum.x2)/2", "as": "xm"}], "mark": {"type": "text", "fontSize": 15, "fontWeight": "bold", "dy": -2, "color": "#222"}, "encoding": {"x": {"field": "xm", "type": "quantitative"}, "y": {"field": "y", "type": "quantitative"}, "text": {"field": "lab"}}}
  ]},
  {"width": 1, "height": 48, "data": {"values": []}, "mark": "text", "encoding": {"text": {"value": ""}}},
  {"width": 242, "height": 159, "layer": [
   {"data": {"name": "sum"}, "transform": [{"filter": "datum.p=='24'"}], "mark": {"type": "rule", "color": "#111", "strokeWidth": 1.5}, "encoding": {"x": {"field": "x", "type": "quantitative", "scale": {"domain": [0.3, 3.75], "zero": false, "nice": false}, "axis": {"values": [1, 2, 3], "labelExpr": "datum.value==1?'100%':datum.value==2?'66-33%':'0%'", "title": "Transmission via air"}}, "y": {"field": "q1", "type": "quantitative", "scale": {"domain": [-1, 8], "zero": false, "nice": false}, "axis": {"values": [-1, 0, 1, 2, 3, 4, 5, 6, 7, 8], "tickCount": 10, "labelExpr": "''+datum.value", "labelOverlap": false, "labelFontSize": 13, "title": "log₁₀ RNA copies/L air"}}, "y2": {"field": "q3"}}},
   {"data": {"name": "sum"}, "transform": [{"filter": "datum.p=='24'"}, {"fold": ["q1", "q3"], "as": ["k", "v"]}], "mark": {"type": "tick", "orient": "horizontal", "size": 22, "thickness": 1.5, "color": "#111"}, "encoding": {"x": {"field": "x", "type": "quantitative"}, "y": {"field": "v", "type": "quantitative"}}},
   {"data": {"name": "sum"}, "transform": [{"filter": "datum.p=='24'"}], "mark": {"type": "tick", "orient": "horizontal", "size": 46, "thickness": 2, "color": "#111"}, "encoding": {"x": {"field": "x", "type": "quantitative"}, "y": {"field": "med", "type": "quantitative"}}},
   {"data": {"name": "pts"}, "transform": [{"filter": "datum.p=='24'"}], "mark": {"type": "point", "filled": true, "color": "#000", "opacity": 1, "size": 65}, "encoding": {"x": {"field": "x", "type": "quantitative"}, "y": {"field": "y", "type": "quantitative"}, "shape": {"field": "g", "type": "nominal", "scale": {"domain": ["100%", "66-33%", "0%"], "range": ["circle", "square", "triangle-up"]}, "legend": null}}},
   {"data": {"name": "sig"}, "transform": [{"filter": "datum.p=='24'"}], "mark": {"type": "rule", "color": "#333", "strokeWidth": 1.2}, "encoding": {"x": {"field": "x1", "type": "quantitative"}, "x2": {"field": "x2"}, "y": {"field": "y", "type": "quantitative"}}},
   {"data": {"name": "sig"}, "transform": [{"filter": "datum.p=='24'"}, {"fold": ["x1", "x2"], "as": ["k", "v"]}], "mark": {"type": "tick", "orient": "vertical", "size": 7, "thickness": 1.2, "color": "#333"}, "encoding": {"x": {"field": "v", "type": "quantitative"}, "y": {"field": "y", "type": "quantitative"}}},
   {"data": {"name": "sig"}, "transform": [{"filter": "datum.p=='24'"}, {"calculate": "(datum.x1+datum.x2)/2", "as": "xm"}], "mark": {"type": "text", "fontSize": 15, "fontWeight": "bold", "dy": -2, "color": "#222"}, "encoding": {"x": {"field": "xm", "type": "quantitative"}, "y": {"field": "y", "type": "quantitative"}, "text": {"field": "lab"}}}
  ]},
  {"width": 1, "height": 40, "data": {"values": []}, "mark": "text", "encoding": {"text": {"value": ""}}},
  {"width": 242, "height": 159, "layer": [
   {"data": {"name": "sum"}, "transform": [{"filter": "datum.p=='34'"}], "mark": {"type": "rule", "color": "#111", "strokeWidth": 1.5}, "encoding": {"x": {"field": "x", "type": "quantitative", "scale": {"domain": [0.3, 3.75], "zero": false, "nice": false}, "axis": {"values": [1, 2, 3], "labelExpr": "datum.value==1?'100%':datum.value==2?'66-33%':'0%'", "title": "Transmission via air"}}, "y": {"field": "q1", "type": "quantitative", "scale": {"domain": [-1, 8], "zero": false, "nice": false}, "axis": {"values": [-1, 0, 1, 2, 3, 4, 5, 6, 7, 8], "tickCount": 10, "labelExpr": "''+datum.value", "labelOverlap": false, "labelFontSize": 13, "title": "log₁₀ RNA copies/L air"}}, "y2": {"field": "q3"}}},
   {"data": {"name": "sum"}, "transform": [{"filter": "datum.p=='34'"}, {"fold": ["q1", "q3"], "as": ["k", "v"]}], "mark": {"type": "tick", "orient": "horizontal", "size": 22, "thickness": 1.5, "color": "#111"}, "encoding": {"x": {"field": "x", "type": "quantitative"}, "y": {"field": "v", "type": "quantitative"}}},
   {"data": {"name": "sum"}, "transform": [{"filter": "datum.p=='34'"}], "mark": {"type": "tick", "orient": "horizontal", "size": 46, "thickness": 2, "color": "#111"}, "encoding": {"x": {"field": "x", "type": "quantitative"}, "y": {"field": "med", "type": "quantitative"}}},
   {"data": {"name": "pts"}, "transform": [{"filter": "datum.p=='34'"}], "mark": {"type": "point", "filled": true, "color": "#000", "opacity": 1, "size": 65}, "encoding": {"x": {"field": "x", "type": "quantitative"}, "y": {"field": "y", "type": "quantitative"}, "shape": {"field": "g", "type": "nominal", "scale": {"domain": ["100%", "66-33%", "0%"], "range": ["circle", "square", "triangle-up"]}, "legend": null}}}
  ]},
  {"width": 1, "height": 39, "data": {"values": []}, "mark": "text", "encoding": {"text": {"value": ""}}},
  {"width": 242, "height": 159, "layer": [
   {"data": {"name": "sum"}, "transform": [{"filter": "datum.p=='44'"}], "mark": {"type": "rule", "color": "#111", "strokeWidth": 1.5}, "encoding": {"x": {"field": "x", "type": "quantitative", "scale": {"domain": [0.3, 3.75], "zero": false, "nice": false}, "axis": {"values": [1, 2, 3], "labelExpr": "datum.value==1?'100%':datum.value==2?'66-33%':'0%'", "title": "Transmission via air"}}, "y": {"field": "q1", "type": "quantitative", "scale": {"domain": [-1, 8], "zero": false, "nice": false}, "axis": {"values": [-1, 0, 1, 2, 3, 4, 5, 6, 7, 8], "tickCount": 10, "labelExpr": "''+datum.value", "labelOverlap": false, "labelFontSize": 13, "title": "log₁₀ RNA copies/L air"}}, "y2": {"field": "q3"}}},
   {"data": {"name": "sum"}, "transform": [{"filter": "datum.p=='44'"}, {"fold": ["q1", "q3"], "as": ["k", "v"]}], "mark": {"type": "tick", "orient": "horizontal", "size": 22, "thickness": 1.5, "color": "#111"}, "encoding": {"x": {"field": "x", "type": "quantitative"}, "y": {"field": "v", "type": "quantitative"}}},
   {"data": {"name": "sum"}, "transform": [{"filter": "datum.p=='44'"}], "mark": {"type": "tick", "orient": "horizontal", "size": 46, "thickness": 2, "color": "#111"}, "encoding": {"x": {"field": "x", "type": "quantitative"}, "y": {"field": "med", "type": "quantitative"}}},
   {"data": {"name": "pts"}, "transform": [{"filter": "datum.p=='44'"}], "mark": {"type": "point", "filled": true, "color": "#000", "opacity": 1, "size": 65}, "encoding": {"x": {"field": "x", "type": "quantitative"}, "y": {"field": "y", "type": "quantitative"}, "shape": {"field": "g", "type": "nominal", "scale": {"domain": ["100%", "66-33%", "0%"], "range": ["circle", "square", "triangle-up"]}, "legend": null}}},
   {"data": {"name": "sig"}, "transform": [{"filter": "datum.p=='44'"}], "mark": {"type": "rule", "color": "#333", "strokeWidth": 1.2}, "encoding": {"x": {"field": "x1", "type": "quantitative"}, "x2": {"field": "x2"}, "y": {"field": "y", "type": "quantitative"}}},
   {"data": {"name": "sig"}, "transform": [{"filter": "datum.p=='44'"}, {"fold": ["x1", "x2"], "as": ["k", "v"]}], "mark": {"type": "tick", "orient": "vertical", "size": 7, "thickness": 1.2, "color": "#333"}, "encoding": {"x": {"field": "v", "type": "quantitative"}, "y": {"field": "y", "type": "quantitative"}}},
   {"data": {"name": "sig"}, "transform": [{"filter": "datum.p=='44'"}, {"calculate": "(datum.x1+datum.x2)/2", "as": "xm"}], "mark": {"type": "text", "fontSize": 15, "fontWeight": "bold", "dy": -2, "color": "#222"}, "encoding": {"x": {"field": "xm", "type": "quantitative"}, "y": {"field": "y", "type": "quantitative"}, "text": {"field": "lab"}}}
  ]}
 ]}
]}
]
}
